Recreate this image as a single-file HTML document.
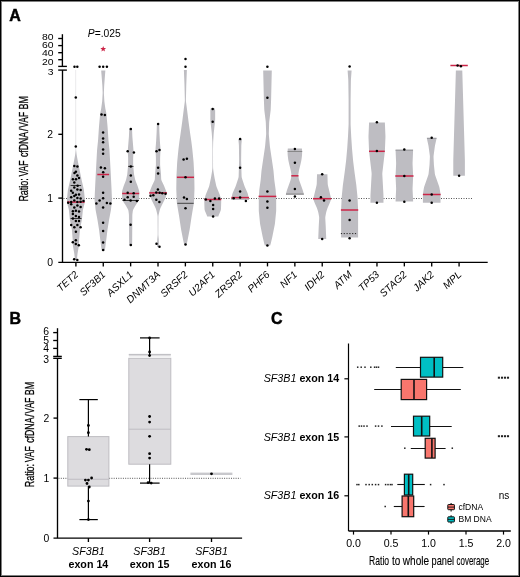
<!DOCTYPE html><html><head><meta charset="utf-8"><style>html,body{margin:0;padding:0;background:#fff;}#wrap{position:relative;width:520px;height:577px;overflow:hidden;}#wrap svg{position:absolute;left:0;top:0;will-change:transform;}#border{position:absolute;left:0;top:0;width:520px;height:577px;box-sizing:border-box;border:1px solid #000;box-shadow:inset 0 0 0 1px rgba(0,0,0,0.5);}</style></head><body><div id="wrap"><svg width="520" height="577" viewBox="0 0 520 577">
<g font-family="'Liberation Sans', sans-serif" font-weight="bold" font-size="16" fill="#000" stroke="#000" stroke-width="0.45"><text x="9.2" y="21.1">A</text><text x="9.6" y="323.9">B</text><text x="271.1" y="323.8">C</text></g>
<line x1="63.5" y1="198.5" x2="472.7" y2="198.5" stroke="#555" stroke-width="1" stroke-dasharray="1,1.5"/>
<path d="M75.75,70.0 L75.75,70.5 L75.75,71.0 L75.75,71.5 L75.75,72.0 L75.75,72.5 L75.75,73.0 L75.75,73.5 L75.75,74.0 L75.75,74.5 L75.75,75.0 L75.75,75.5 L75.75,76.0 L75.75,76.5 L75.75,77.0 L75.75,77.5 L75.75,78.0 L75.74,78.5 L75.74,79.0 L75.74,79.5 L75.74,80.0 L75.74,80.5 L75.74,81.0 L75.74,81.5 L75.74,82.0 L75.74,82.5 L75.74,83.0 L75.74,83.5 L75.74,84.0 L75.74,84.5 L75.74,85.0 L75.74,85.5 L75.74,86.0 L75.74,86.5 L75.74,87.0 L75.74,87.5 L75.74,88.0 L75.74,88.5 L75.74,89.0 L75.74,89.5 L75.74,90.0 L75.74,90.5 L75.74,91.0 L75.74,91.5 L75.74,92.0 L75.74,92.5 L75.74,93.0 L75.74,93.5 L75.73,94.0 L75.73,94.5 L75.73,95.0 L75.73,95.5 L75.73,96.0 L75.73,96.5 L75.73,97.0 L75.73,97.5 L75.73,98.0 L75.73,98.5 L75.73,99.0 L75.73,99.5 L75.73,100.0 L75.73,100.5 L75.73,101.0 L75.73,101.5 L75.73,102.0 L75.73,102.5 L75.73,103.0 L75.73,103.5 L75.73,104.0 L75.73,104.5 L75.73,105.0 L75.73,105.5 L75.73,106.0 L75.73,106.5 L75.73,107.0 L75.73,107.5 L75.73,108.0 L75.73,108.5 L75.73,109.0 L75.73,109.5 L75.73,110.0 L75.72,110.5 L75.72,111.0 L75.72,111.5 L75.72,112.0 L75.72,112.5 L75.72,113.0 L75.72,113.5 L75.72,114.0 L75.72,114.5 L75.72,115.0 L75.72,115.5 L75.72,116.0 L75.72,116.5 L75.72,117.0 L75.72,117.5 L75.72,118.0 L75.72,118.5 L75.72,119.0 L75.72,119.5 L75.72,120.0 L75.72,120.5 L75.72,121.0 L75.72,121.5 L75.72,122.0 L75.72,122.5 L75.72,123.0 L75.72,123.5 L75.72,124.0 L75.72,124.5 L75.72,125.0 L75.72,125.5 L75.72,126.0 L75.71,126.5 L75.71,127.0 L75.71,127.5 L75.71,128.0 L75.71,128.5 L75.71,129.0 L75.71,129.5 L75.71,130.0 L75.71,130.5 L75.71,131.0 L75.71,131.5 L75.71,132.0 L75.71,132.5 L75.71,133.0 L75.71,133.5 L75.71,134.0 L75.71,134.5 L75.71,135.0 L75.71,135.5 L75.71,136.0 L75.71,136.5 L75.71,137.0 L75.71,137.5 L75.71,138.0 L75.71,138.5 L75.71,139.0 L75.71,139.5 L75.71,140.0 L75.71,140.5 L75.71,141.0 L75.71,141.5 L75.71,142.0 L75.70,142.5 L75.70,143.0 L75.70,143.5 L75.70,144.0 L75.70,144.5 L75.70,145.0 L75.70,145.5 L75.70,146.0 L75.70,146.5 L75.70,147.0 L75.70,147.5 L75.70,148.0 L75.70,148.5 L75.70,149.0 L75.69,149.5 L75.66,150.0 L75.63,150.5 L75.58,151.0 L75.52,151.5 L75.46,152.0 L75.40,152.5 L75.34,153.0 L75.28,153.5 L75.22,154.0 L75.15,154.5 L75.08,155.0 L75.00,155.5 L74.92,156.0 L74.83,156.5 L74.74,157.0 L74.65,157.5 L74.56,158.0 L74.47,158.5 L74.38,159.0 L74.29,159.5 L74.19,160.0 L74.10,160.5 L74.00,161.0 L73.90,161.5 L73.80,162.0 L73.70,162.5 L73.60,163.0 L73.50,163.5 L73.40,164.0 L73.30,164.5 L73.20,165.0 L73.10,165.5 L73.00,166.0 L72.90,166.5 L72.80,167.0 L72.70,167.5 L72.60,168.0 L72.50,168.5 L72.40,169.0 L72.30,169.5 L72.20,170.0 L72.10,170.5 L72.00,171.0 L71.90,171.5 L71.80,172.0 L71.69,172.5 L71.59,173.0 L71.49,173.5 L71.39,174.0 L71.29,174.5 L71.19,175.0 L71.09,175.5 L70.99,176.0 L70.89,176.5 L70.79,177.0 L70.68,177.5 L70.58,178.0 L70.48,178.5 L70.38,179.0 L70.28,179.5 L70.17,180.0 L70.06,180.5 L69.95,181.0 L69.83,181.5 L69.72,182.0 L69.60,182.5 L69.49,183.0 L69.37,183.5 L69.26,184.0 L69.14,184.5 L69.03,185.0 L68.91,185.5 L68.80,186.0 L68.68,186.5 L68.57,187.0 L68.45,187.5 L68.34,188.0 L68.22,188.5 L68.11,189.0 L68.01,189.5 L67.92,190.0 L67.85,190.5 L67.79,191.0 L67.74,191.5 L67.69,192.0 L67.64,192.5 L67.59,193.0 L67.54,193.5 L67.49,194.0 L67.44,194.5 L67.39,195.0 L67.34,195.5 L67.29,196.0 L67.24,196.5 L67.19,197.0 L67.14,197.5 L67.09,198.0 L67.04,198.5 L66.99,199.0 L66.97,199.5 L66.96,200.0 L66.98,200.5 L67.01,201.0 L67.06,201.5 L67.12,202.0 L67.17,202.5 L67.22,203.0 L67.30,203.5 L67.39,204.0 L67.50,204.5 L67.62,205.0 L67.75,205.5 L67.89,206.0 L68.02,206.5 L68.15,207.0 L68.29,207.5 L68.42,208.0 L68.55,208.5 L68.68,209.0 L68.79,209.5 L68.88,210.0 L68.96,210.5 L69.02,211.0 L69.07,211.5 L69.12,212.0 L69.17,212.5 L69.22,213.0 L69.27,213.5 L69.32,214.0 L69.37,214.5 L69.42,215.0 L69.47,215.5 L69.52,216.0 L69.57,216.5 L69.62,217.0 L69.67,217.5 L69.72,218.0 L69.77,218.5 L69.82,219.0 L69.89,219.5 L69.96,220.0 L70.05,220.5 L70.14,221.0 L70.24,221.5 L70.34,222.0 L70.44,222.5 L70.54,223.0 L70.64,223.5 L70.74,224.0 L70.84,224.5 L70.94,225.0 L71.04,225.5 L71.14,226.0 L71.24,226.5 L71.34,227.0 L71.44,227.5 L71.54,228.0 L71.64,228.5 L71.74,229.0 L71.82,229.5 L71.89,230.0 L71.95,230.5 L72.00,231.0 L72.04,231.5 L72.08,232.0 L72.12,232.5 L72.16,233.0 L72.20,233.5 L72.24,234.0 L72.28,234.5 L72.32,235.0 L72.36,235.5 L72.40,236.0 L72.44,236.5 L72.48,237.0 L72.52,237.5 L72.56,238.0 L72.60,238.5 L72.64,239.0 L72.67,239.5 L72.70,240.0 L72.72,240.5 L72.74,241.0 L72.76,241.5 L72.78,242.0 L72.79,242.5 L72.81,243.0 L72.83,243.5 L72.84,244.0 L72.86,244.5 L72.89,245.0 L72.92,245.5 L72.98,246.0 L73.05,246.5 L73.13,247.0 L73.22,247.5 L73.30,248.0 L73.39,248.5 L73.48,249.0 L73.57,249.5 L73.65,250.0 L73.74,250.5 L73.83,251.0 L73.92,251.5 L74.00,252.0 L74.09,252.5 L74.17,253.0 L74.25,253.5 L74.32,254.0 L74.38,254.5 L74.43,255.0 L74.48,255.5 L74.53,256.0 L74.58,256.5 L74.63,257.0 L74.68,257.5 L74.73,258.0 L74.78,258.5 L74.82,259.0 L74.86,259.5 L74.88,259.7 L76.92,259.7 L76.94,259.5 L76.98,259.0 L77.02,258.5 L77.07,258.0 L77.12,257.5 L77.17,257.0 L77.22,256.5 L77.27,256.0 L77.32,255.5 L77.37,255.0 L77.42,254.5 L77.48,254.0 L77.55,253.5 L77.63,253.0 L77.71,252.5 L77.80,252.0 L77.89,251.5 L77.97,251.0 L78.06,250.5 L78.15,250.0 L78.23,249.5 L78.32,249.0 L78.41,248.5 L78.50,248.0 L78.59,247.5 L78.67,247.0 L78.75,246.5 L78.82,246.0 L78.88,245.5 L78.91,245.0 L78.94,244.5 L78.96,244.0 L78.97,243.5 L78.99,243.0 L79.01,242.5 L79.02,242.0 L79.04,241.5 L79.06,241.0 L79.08,240.5 L79.10,240.0 L79.13,239.5 L79.16,239.0 L79.20,238.5 L79.24,238.0 L79.28,237.5 L79.32,237.0 L79.36,236.5 L79.40,236.0 L79.44,235.5 L79.48,235.0 L79.52,234.5 L79.56,234.0 L79.60,233.5 L79.64,233.0 L79.68,232.5 L79.72,232.0 L79.76,231.5 L79.80,231.0 L79.85,230.5 L79.91,230.0 L79.98,229.5 L80.06,229.0 L80.16,228.5 L80.26,228.0 L80.36,227.5 L80.46,227.0 L80.56,226.5 L80.66,226.0 L80.76,225.5 L80.86,225.0 L80.96,224.5 L81.06,224.0 L81.16,223.5 L81.26,223.0 L81.36,222.5 L81.46,222.0 L81.56,221.5 L81.66,221.0 L81.75,220.5 L81.84,220.0 L81.91,219.5 L81.98,219.0 L82.03,218.5 L82.08,218.0 L82.13,217.5 L82.18,217.0 L82.23,216.5 L82.28,216.0 L82.33,215.5 L82.38,215.0 L82.43,214.5 L82.48,214.0 L82.53,213.5 L82.58,213.0 L82.63,212.5 L82.68,212.0 L82.73,211.5 L82.78,211.0 L82.84,210.5 L82.92,210.0 L83.01,209.5 L83.12,209.0 L83.25,208.5 L83.38,208.0 L83.51,207.5 L83.65,207.0 L83.78,206.5 L83.91,206.0 L84.05,205.5 L84.18,205.0 L84.30,204.5 L84.41,204.0 L84.50,203.5 L84.58,203.0 L84.63,202.5 L84.68,202.0 L84.74,201.5 L84.79,201.0 L84.82,200.5 L84.84,200.0 L84.83,199.5 L84.81,199.0 L84.76,198.5 L84.71,198.0 L84.66,197.5 L84.61,197.0 L84.56,196.5 L84.51,196.0 L84.46,195.5 L84.41,195.0 L84.36,194.5 L84.31,194.0 L84.26,193.5 L84.21,193.0 L84.16,192.5 L84.11,192.0 L84.06,191.5 L84.01,191.0 L83.95,190.5 L83.88,190.0 L83.79,189.5 L83.69,189.0 L83.58,188.5 L83.46,188.0 L83.35,187.5 L83.23,187.0 L83.12,186.5 L83.00,186.0 L82.89,185.5 L82.77,185.0 L82.66,184.5 L82.54,184.0 L82.43,183.5 L82.31,183.0 L82.20,182.5 L82.08,182.0 L81.97,181.5 L81.85,181.0 L81.74,180.5 L81.63,180.0 L81.52,179.5 L81.42,179.0 L81.32,178.5 L81.22,178.0 L81.12,177.5 L81.01,177.0 L80.91,176.5 L80.81,176.0 L80.71,175.5 L80.61,175.0 L80.51,174.5 L80.41,174.0 L80.31,173.5 L80.21,173.0 L80.11,172.5 L80.00,172.0 L79.90,171.5 L79.80,171.0 L79.70,170.5 L79.60,170.0 L79.50,169.5 L79.40,169.0 L79.30,168.5 L79.20,168.0 L79.10,167.5 L79.00,167.0 L78.90,166.5 L78.80,166.0 L78.70,165.5 L78.60,165.0 L78.50,164.5 L78.40,164.0 L78.30,163.5 L78.20,163.0 L78.10,162.5 L78.00,162.0 L77.90,161.5 L77.80,161.0 L77.70,160.5 L77.61,160.0 L77.51,159.5 L77.42,159.0 L77.33,158.5 L77.24,158.0 L77.15,157.5 L77.06,157.0 L76.97,156.5 L76.88,156.0 L76.80,155.5 L76.72,155.0 L76.65,154.5 L76.58,154.0 L76.52,153.5 L76.46,153.0 L76.40,152.5 L76.34,152.0 L76.28,151.5 L76.22,151.0 L76.17,150.5 L76.14,150.0 L76.11,149.5 L76.10,149.0 L76.10,148.5 L76.10,148.0 L76.10,147.5 L76.10,147.0 L76.10,146.5 L76.10,146.0 L76.10,145.5 L76.10,145.0 L76.10,144.5 L76.10,144.0 L76.10,143.5 L76.10,143.0 L76.10,142.5 L76.09,142.0 L76.09,141.5 L76.09,141.0 L76.09,140.5 L76.09,140.0 L76.09,139.5 L76.09,139.0 L76.09,138.5 L76.09,138.0 L76.09,137.5 L76.09,137.0 L76.09,136.5 L76.09,136.0 L76.09,135.5 L76.09,135.0 L76.09,134.5 L76.09,134.0 L76.09,133.5 L76.09,133.0 L76.09,132.5 L76.09,132.0 L76.09,131.5 L76.09,131.0 L76.09,130.5 L76.09,130.0 L76.09,129.5 L76.09,129.0 L76.09,128.5 L76.09,128.0 L76.09,127.5 L76.09,127.0 L76.09,126.5 L76.09,126.0 L76.08,125.5 L76.08,125.0 L76.08,124.5 L76.08,124.0 L76.08,123.5 L76.08,123.0 L76.08,122.5 L76.08,122.0 L76.08,121.5 L76.08,121.0 L76.08,120.5 L76.08,120.0 L76.08,119.5 L76.08,119.0 L76.08,118.5 L76.08,118.0 L76.08,117.5 L76.08,117.0 L76.08,116.5 L76.08,116.0 L76.08,115.5 L76.08,115.0 L76.08,114.5 L76.08,114.0 L76.08,113.5 L76.08,113.0 L76.08,112.5 L76.08,112.0 L76.08,111.5 L76.08,111.0 L76.08,110.5 L76.08,110.0 L76.07,109.5 L76.07,109.0 L76.07,108.5 L76.07,108.0 L76.07,107.5 L76.07,107.0 L76.07,106.5 L76.07,106.0 L76.07,105.5 L76.07,105.0 L76.07,104.5 L76.07,104.0 L76.07,103.5 L76.07,103.0 L76.07,102.5 L76.07,102.0 L76.07,101.5 L76.07,101.0 L76.07,100.5 L76.07,100.0 L76.07,99.5 L76.07,99.0 L76.07,98.5 L76.07,98.0 L76.07,97.5 L76.07,97.0 L76.07,96.5 L76.07,96.0 L76.07,95.5 L76.07,95.0 L76.07,94.5 L76.07,94.0 L76.06,93.5 L76.06,93.0 L76.06,92.5 L76.06,92.0 L76.06,91.5 L76.06,91.0 L76.06,90.5 L76.06,90.0 L76.06,89.5 L76.06,89.0 L76.06,88.5 L76.06,88.0 L76.06,87.5 L76.06,87.0 L76.06,86.5 L76.06,86.0 L76.06,85.5 L76.06,85.0 L76.06,84.5 L76.06,84.0 L76.06,83.5 L76.06,83.0 L76.06,82.5 L76.06,82.0 L76.06,81.5 L76.06,81.0 L76.06,80.5 L76.06,80.0 L76.06,79.5 L76.06,79.0 L76.06,78.5 L76.06,78.0 L76.05,77.5 L76.05,77.0 L76.05,76.5 L76.05,76.0 L76.05,75.5 L76.05,75.0 L76.05,74.5 L76.05,74.0 L76.05,73.5 L76.05,73.0 L76.05,72.5 L76.05,72.0 L76.05,71.5 L76.05,71.0 L76.05,70.5 L76.05,70.0Z" fill="#bebdc2"/>
<path d="M101.19,70.5 L101.22,71.0 L101.25,71.5 L101.29,72.0 L101.33,72.5 L101.37,73.0 L101.41,73.5 L101.46,74.0 L101.50,74.5 L101.54,75.0 L101.58,75.5 L101.62,76.0 L101.65,76.5 L101.69,77.0 L101.73,77.5 L101.77,78.0 L101.81,78.5 L101.85,79.0 L101.89,79.5 L101.92,80.0 L101.96,80.5 L102.00,81.0 L102.04,81.5 L102.08,82.0 L102.12,82.5 L102.15,83.0 L102.19,83.5 L102.23,84.0 L102.27,84.5 L102.31,85.0 L102.34,85.5 L102.37,86.0 L102.40,86.5 L102.42,87.0 L102.44,87.5 L102.46,88.0 L102.48,88.5 L102.50,89.0 L102.52,89.5 L102.55,90.0 L102.57,90.5 L102.59,91.0 L102.61,91.5 L102.63,92.0 L102.64,92.5 L102.64,93.0 L102.63,93.5 L102.61,94.0 L102.58,94.5 L102.55,95.0 L102.52,95.5 L102.49,96.0 L102.46,96.5 L102.43,97.0 L102.41,97.5 L102.38,98.0 L102.35,98.5 L102.32,99.0 L102.29,99.5 L102.26,100.0 L102.23,100.5 L102.19,101.0 L102.15,101.5 L102.09,102.0 L102.03,102.5 L101.96,103.0 L101.89,103.5 L101.83,104.0 L101.76,104.5 L101.69,105.0 L101.62,105.5 L101.55,106.0 L101.48,106.5 L101.41,107.0 L101.34,107.5 L101.27,108.0 L101.19,108.5 L101.10,109.0 L101.00,109.5 L100.90,110.0 L100.79,110.5 L100.69,111.0 L100.58,111.5 L100.47,112.0 L100.37,112.5 L100.27,113.0 L100.19,113.5 L100.13,114.0 L100.07,114.5 L100.03,115.0 L99.98,115.5 L99.94,116.0 L99.89,116.5 L99.85,117.0 L99.81,117.5 L99.76,118.0 L99.72,118.5 L99.67,119.0 L99.63,119.5 L99.58,120.0 L99.54,120.5 L99.49,121.0 L99.45,121.5 L99.41,122.0 L99.36,122.5 L99.32,123.0 L99.27,123.5 L99.23,124.0 L99.18,124.5 L99.14,125.0 L99.09,125.5 L99.05,126.0 L99.01,126.5 L98.97,127.0 L98.93,127.5 L98.90,128.0 L98.86,128.5 L98.83,129.0 L98.80,129.5 L98.76,130.0 L98.73,130.5 L98.69,131.0 L98.66,131.5 L98.63,132.0 L98.59,132.5 L98.56,133.0 L98.53,133.5 L98.49,134.0 L98.46,134.5 L98.43,135.0 L98.39,135.5 L98.36,136.0 L98.33,136.5 L98.29,137.0 L98.26,137.5 L98.22,138.0 L98.19,138.5 L98.16,139.0 L98.12,139.5 L98.08,140.0 L98.04,140.5 L98.00,141.0 L97.95,141.5 L97.89,142.0 L97.84,142.5 L97.79,143.0 L97.74,143.5 L97.69,144.0 L97.64,144.5 L97.59,145.0 L97.53,145.5 L97.48,146.0 L97.43,146.5 L97.38,147.0 L97.33,147.5 L97.28,148.0 L97.22,148.5 L97.17,149.0 L97.13,149.5 L97.08,150.0 L97.05,150.5 L97.02,151.0 L96.99,151.5 L96.96,152.0 L96.93,152.5 L96.91,153.0 L96.88,153.5 L96.85,154.0 L96.82,154.5 L96.80,155.0 L96.77,155.5 L96.74,156.0 L96.71,156.5 L96.69,157.0 L96.66,157.5 L96.63,158.0 L96.60,158.5 L96.58,159.0 L96.55,159.5 L96.52,160.0 L96.49,160.5 L96.47,161.0 L96.44,161.5 L96.41,162.0 L96.38,162.5 L96.36,163.0 L96.33,163.5 L96.30,164.0 L96.27,164.5 L96.25,165.0 L96.22,165.5 L96.19,166.0 L96.16,166.5 L96.14,167.0 L96.11,167.5 L96.08,168.0 L96.05,168.5 L96.03,169.0 L96.00,169.5 L95.97,170.0 L95.95,170.5 L95.92,171.0 L95.89,171.5 L95.87,172.0 L95.84,172.5 L95.82,173.0 L95.79,173.5 L95.77,174.0 L95.74,174.5 L95.72,175.0 L95.69,175.5 L95.67,176.0 L95.64,176.5 L95.62,177.0 L95.59,177.5 L95.57,178.0 L95.54,178.5 L95.52,179.0 L95.49,179.5 L95.47,180.0 L95.44,180.5 L95.42,181.0 L95.39,181.5 L95.37,182.0 L95.34,182.5 L95.32,183.0 L95.29,183.5 L95.27,184.0 L95.24,184.5 L95.22,185.0 L95.19,185.5 L95.17,186.0 L95.14,186.5 L95.12,187.0 L95.09,187.5 L95.07,188.0 L95.04,188.5 L95.02,189.0 L94.99,189.5 L94.97,190.0 L94.95,190.5 L94.93,191.0 L94.91,191.5 L94.89,192.0 L94.87,192.5 L94.85,193.0 L94.83,193.5 L94.81,194.0 L94.79,194.5 L94.77,195.0 L94.75,195.5 L94.73,196.0 L94.71,196.5 L94.69,197.0 L94.67,197.5 L94.65,198.0 L94.63,198.5 L94.61,199.0 L94.61,199.5 L94.62,200.0 L94.64,200.5 L94.68,201.0 L94.73,201.5 L94.78,202.0 L94.83,202.5 L94.88,203.0 L94.93,203.5 L94.98,204.0 L95.03,204.5 L95.09,205.0 L95.14,205.5 L95.19,206.0 L95.24,206.5 L95.29,207.0 L95.34,207.5 L95.39,208.0 L95.44,208.5 L95.49,209.0 L95.56,209.5 L95.63,210.0 L95.71,210.5 L95.80,211.0 L95.89,211.5 L95.99,212.0 L96.08,212.5 L96.18,213.0 L96.27,213.5 L96.37,214.0 L96.46,214.5 L96.56,215.0 L96.65,215.5 L96.75,216.0 L96.84,216.5 L96.94,217.0 L97.03,217.5 L97.13,218.0 L97.22,218.5 L97.32,219.0 L97.41,219.5 L97.50,220.0 L97.58,220.5 L97.66,221.0 L97.74,221.5 L97.82,222.0 L97.90,222.5 L97.98,223.0 L98.06,223.5 L98.14,224.0 L98.22,224.5 L98.30,225.0 L98.38,225.5 L98.46,226.0 L98.54,226.5 L98.62,227.0 L98.70,227.5 L98.78,228.0 L98.86,228.5 L98.94,229.0 L99.02,229.5 L99.09,230.0 L99.15,230.5 L99.22,231.0 L99.28,231.5 L99.34,232.0 L99.40,232.5 L99.46,233.0 L99.52,233.5 L99.58,234.0 L99.64,234.5 L99.70,235.0 L99.76,235.5 L99.82,236.0 L99.88,236.5 L99.94,237.0 L100.00,237.5 L100.06,238.0 L100.12,238.5 L100.19,239.0 L100.25,239.5 L100.31,240.0 L100.37,240.5 L100.44,241.0 L100.50,241.5 L100.57,242.0 L100.63,242.5 L100.70,243.0 L100.76,243.5 L100.83,244.0 L100.89,244.5 L100.96,245.0 L101.02,245.5 L101.09,246.0 L101.15,246.5 L101.22,247.0 L101.28,247.5 L101.35,248.0 L101.41,248.5 L101.49,249.0 L101.60,249.5 L101.73,250.0 L101.85,250.5 L101.95,251.0 L104.59,251.0 L104.69,250.5 L104.81,250.0 L104.94,249.5 L105.05,249.0 L105.13,248.5 L105.19,248.0 L105.26,247.5 L105.32,247.0 L105.39,246.5 L105.45,246.0 L105.52,245.5 L105.58,245.0 L105.65,244.5 L105.71,244.0 L105.78,243.5 L105.84,243.0 L105.91,242.5 L105.97,242.0 L106.04,241.5 L106.10,241.0 L106.17,240.5 L106.23,240.0 L106.29,239.5 L106.35,239.0 L106.42,238.5 L106.48,238.0 L106.54,237.5 L106.60,237.0 L106.66,236.5 L106.72,236.0 L106.78,235.5 L106.84,235.0 L106.90,234.5 L106.96,234.0 L107.02,233.5 L107.08,233.0 L107.14,232.5 L107.20,232.0 L107.26,231.5 L107.32,231.0 L107.39,230.5 L107.45,230.0 L107.52,229.5 L107.60,229.0 L107.68,228.5 L107.76,228.0 L107.84,227.5 L107.92,227.0 L108.00,226.5 L108.08,226.0 L108.16,225.5 L108.24,225.0 L108.32,224.5 L108.40,224.0 L108.48,223.5 L108.56,223.0 L108.64,222.5 L108.72,222.0 L108.80,221.5 L108.88,221.0 L108.96,220.5 L109.04,220.0 L109.13,219.5 L109.22,219.0 L109.32,218.5 L109.41,218.0 L109.51,217.5 L109.60,217.0 L109.70,216.5 L109.79,216.0 L109.89,215.5 L109.98,215.0 L110.08,214.5 L110.17,214.0 L110.27,213.5 L110.36,213.0 L110.46,212.5 L110.55,212.0 L110.65,211.5 L110.74,211.0 L110.83,210.5 L110.91,210.0 L110.98,209.5 L111.05,209.0 L111.10,208.5 L111.15,208.0 L111.20,207.5 L111.25,207.0 L111.30,206.5 L111.35,206.0 L111.40,205.5 L111.45,205.0 L111.51,204.5 L111.56,204.0 L111.61,203.5 L111.66,203.0 L111.71,202.5 L111.76,202.0 L111.81,201.5 L111.86,201.0 L111.90,200.5 L111.92,200.0 L111.93,199.5 L111.93,199.0 L111.91,198.5 L111.89,198.0 L111.87,197.5 L111.85,197.0 L111.83,196.5 L111.81,196.0 L111.79,195.5 L111.77,195.0 L111.75,194.5 L111.73,194.0 L111.71,193.5 L111.69,193.0 L111.67,192.5 L111.65,192.0 L111.63,191.5 L111.61,191.0 L111.59,190.5 L111.57,190.0 L111.55,189.5 L111.52,189.0 L111.50,188.5 L111.47,188.0 L111.45,187.5 L111.42,187.0 L111.40,186.5 L111.37,186.0 L111.35,185.5 L111.32,185.0 L111.30,184.5 L111.27,184.0 L111.25,183.5 L111.22,183.0 L111.20,182.5 L111.17,182.0 L111.15,181.5 L111.12,181.0 L111.10,180.5 L111.07,180.0 L111.05,179.5 L111.02,179.0 L111.00,178.5 L110.97,178.0 L110.95,177.5 L110.92,177.0 L110.90,176.5 L110.87,176.0 L110.85,175.5 L110.82,175.0 L110.80,174.5 L110.77,174.0 L110.75,173.5 L110.72,173.0 L110.70,172.5 L110.67,172.0 L110.65,171.5 L110.62,171.0 L110.59,170.5 L110.57,170.0 L110.54,169.5 L110.52,169.0 L110.49,168.5 L110.46,168.0 L110.43,167.5 L110.41,167.0 L110.38,166.5 L110.35,166.0 L110.32,165.5 L110.30,165.0 L110.27,164.5 L110.24,164.0 L110.21,163.5 L110.19,163.0 L110.16,162.5 L110.13,162.0 L110.10,161.5 L110.08,161.0 L110.05,160.5 L110.02,160.0 L109.99,159.5 L109.97,159.0 L109.94,158.5 L109.91,158.0 L109.88,157.5 L109.86,157.0 L109.83,156.5 L109.80,156.0 L109.77,155.5 L109.75,155.0 L109.72,154.5 L109.69,154.0 L109.66,153.5 L109.64,153.0 L109.61,152.5 L109.58,152.0 L109.55,151.5 L109.53,151.0 L109.49,150.5 L109.46,150.0 L109.41,149.5 L109.37,149.0 L109.32,148.5 L109.26,148.0 L109.21,147.5 L109.16,147.0 L109.11,146.5 L109.06,146.0 L109.01,145.5 L108.95,145.0 L108.90,144.5 L108.85,144.0 L108.80,143.5 L108.75,143.0 L108.70,142.5 L108.65,142.0 L108.59,141.5 L108.54,141.0 L108.50,140.5 L108.46,140.0 L108.42,139.5 L108.38,139.0 L108.35,138.5 L108.32,138.0 L108.28,137.5 L108.25,137.0 L108.21,136.5 L108.18,136.0 L108.15,135.5 L108.11,135.0 L108.08,134.5 L108.05,134.0 L108.01,133.5 L107.98,133.0 L107.95,132.5 L107.91,132.0 L107.88,131.5 L107.85,131.0 L107.81,130.5 L107.78,130.0 L107.74,129.5 L107.71,129.0 L107.68,128.5 L107.64,128.0 L107.61,127.5 L107.57,127.0 L107.53,126.5 L107.49,126.0 L107.45,125.5 L107.40,125.0 L107.36,124.5 L107.31,124.0 L107.27,123.5 L107.22,123.0 L107.18,122.5 L107.13,122.0 L107.09,121.5 L107.05,121.0 L107.00,120.5 L106.96,120.0 L106.91,119.5 L106.87,119.0 L106.82,118.5 L106.78,118.0 L106.73,117.5 L106.69,117.0 L106.65,116.5 L106.60,116.0 L106.56,115.5 L106.51,115.0 L106.47,114.5 L106.41,114.0 L106.35,113.5 L106.27,113.0 L106.17,112.5 L106.07,112.0 L105.96,111.5 L105.85,111.0 L105.75,110.5 L105.64,110.0 L105.54,109.5 L105.44,109.0 L105.35,108.5 L105.27,108.0 L105.20,107.5 L105.13,107.0 L105.06,106.5 L104.99,106.0 L104.92,105.5 L104.85,105.0 L104.78,104.5 L104.71,104.0 L104.65,103.5 L104.58,103.0 L104.51,102.5 L104.45,102.0 L104.39,101.5 L104.35,101.0 L104.31,100.5 L104.28,100.0 L104.25,99.5 L104.22,99.0 L104.19,98.5 L104.16,98.0 L104.13,97.5 L104.11,97.0 L104.08,96.5 L104.05,96.0 L104.02,95.5 L103.99,95.0 L103.96,94.5 L103.93,94.0 L103.91,93.5 L103.90,93.0 L103.90,92.5 L103.91,92.0 L103.93,91.5 L103.95,91.0 L103.97,90.5 L104.00,90.0 L104.02,89.5 L104.04,89.0 L104.06,88.5 L104.08,88.0 L104.10,87.5 L104.12,87.0 L104.14,86.5 L104.17,86.0 L104.20,85.5 L104.23,85.0 L104.27,84.5 L104.31,84.0 L104.35,83.5 L104.39,83.0 L104.42,82.5 L104.46,82.0 L104.50,81.5 L104.54,81.0 L104.58,80.5 L104.62,80.0 L104.65,79.5 L104.69,79.0 L104.73,78.5 L104.77,78.0 L104.81,77.5 L104.85,77.0 L104.89,76.5 L104.92,76.0 L104.96,75.5 L105.00,75.0 L105.04,74.5 L105.08,74.0 L105.13,73.5 L105.17,73.0 L105.21,72.5 L105.25,72.0 L105.29,71.5 L105.32,71.0 L105.35,70.5Z" fill="#bebdc2"/>
<path d="M129.23,128.5 L129.22,129.0 L129.20,129.5 L129.18,130.0 L129.16,130.5 L129.15,131.0 L129.13,131.5 L129.11,132.0 L129.09,132.5 L129.07,133.0 L129.05,133.5 L129.03,134.0 L129.01,134.5 L128.99,135.0 L128.97,135.5 L128.95,136.0 L128.92,136.5 L128.89,137.0 L128.85,137.5 L128.81,138.0 L128.77,138.5 L128.72,139.0 L128.68,139.5 L128.64,140.0 L128.60,140.5 L128.56,141.0 L128.52,141.5 L128.47,142.0 L128.43,142.5 L128.39,143.0 L128.35,143.5 L128.31,144.0 L128.27,144.5 L128.22,145.0 L128.18,145.5 L128.14,146.0 L128.10,146.5 L128.06,147.0 L128.02,147.5 L127.98,148.0 L127.94,148.5 L127.90,149.0 L127.86,149.5 L127.82,150.0 L127.79,150.5 L127.78,151.0 L127.78,151.5 L127.80,152.0 L127.83,152.5 L127.86,153.0 L127.88,153.5 L127.91,154.0 L127.94,154.5 L127.96,155.0 L127.99,155.5 L128.02,156.0 L128.05,156.5 L128.07,157.0 L128.10,157.5 L128.12,158.0 L128.13,158.5 L128.14,159.0 L128.14,159.5 L128.14,160.0 L128.14,160.5 L128.14,161.0 L128.14,161.5 L128.14,162.0 L128.14,162.5 L128.14,163.0 L128.14,163.5 L128.14,164.0 L128.13,164.5 L128.11,165.0 L128.08,165.5 L128.05,166.0 L128.00,166.5 L127.95,167.0 L127.90,167.5 L127.86,168.0 L127.81,168.5 L127.76,169.0 L127.71,169.5 L127.67,170.0 L127.62,170.5 L127.57,171.0 L127.52,171.5 L127.48,172.0 L127.43,172.5 L127.38,173.0 L127.33,173.5 L127.28,174.0 L127.20,174.5 L127.12,175.0 L127.02,175.5 L126.91,176.0 L126.80,176.5 L126.69,177.0 L126.59,177.5 L126.48,178.0 L126.37,178.5 L126.26,179.0 L126.13,179.5 L125.99,180.0 L125.82,180.5 L125.64,181.0 L125.45,181.5 L125.25,182.0 L125.05,182.5 L124.85,183.0 L124.65,183.5 L124.45,184.0 L124.26,184.5 L124.06,185.0 L123.87,185.5 L123.69,186.0 L123.52,186.5 L123.36,187.0 L123.20,187.5 L123.05,188.0 L122.89,188.5 L122.73,189.0 L122.57,189.5 L122.41,190.0 L122.26,190.5 L122.13,191.0 L122.05,191.5 L121.99,192.0 L121.97,192.5 L121.99,193.0 L122.01,193.5 L122.03,194.0 L122.04,194.5 L122.06,195.0 L122.08,195.5 L122.10,196.0 L122.11,196.5 L122.13,197.0 L122.15,197.5 L122.16,198.0 L122.18,198.5 L122.20,199.0 L122.25,199.5 L122.37,200.0 L122.56,200.5 L122.80,201.0 L123.12,201.5 L123.45,202.0 L123.79,202.5 L124.12,203.0 L124.46,203.5 L124.80,204.0 L125.13,204.5 L125.46,205.0 L125.77,205.5 L126.07,206.0 L126.36,206.5 L126.64,207.0 L126.93,207.5 L127.21,208.0 L127.49,208.5 L127.77,209.0 L128.01,209.5 L128.21,210.0 L128.36,210.5 L128.47,211.0 L128.54,211.5 L128.60,212.0 L128.67,212.5 L128.73,213.0 L128.80,213.5 L128.85,214.0 L128.89,214.5 L128.93,215.0 L128.94,215.5 L128.95,216.0 L128.95,216.5 L128.96,217.0 L128.96,217.5 L128.96,218.0 L128.97,218.5 L128.97,219.0 L128.97,219.5 L128.97,220.0 L128.98,220.5 L128.98,221.0 L128.98,221.5 L128.99,222.0 L128.99,222.5 L128.99,223.0 L129.00,223.5 L129.00,224.0 L129.00,224.5 L129.01,225.0 L129.01,225.5 L129.01,226.0 L129.02,226.5 L129.02,227.0 L129.02,227.5 L129.03,228.0 L129.03,228.5 L129.03,229.0 L129.04,229.5 L129.04,230.0 L129.04,230.5 L129.05,231.0 L129.05,231.5 L129.05,232.0 L129.06,232.5 L129.06,233.0 L129.06,233.5 L129.07,234.0 L129.07,234.5 L129.07,235.0 L129.08,235.5 L129.08,236.0 L129.08,236.5 L129.08,237.0 L129.09,237.5 L129.09,238.0 L129.09,238.5 L129.10,239.0 L129.10,239.5 L129.10,240.0 L129.11,240.5 L129.11,241.0 L129.11,241.5 L129.12,242.0 L129.12,242.5 L129.12,243.0 L129.13,243.5 L129.13,244.0 L129.13,244.5 L129.14,245.0 L129.14,245.5 L132.14,245.5 L132.14,245.0 L132.15,244.5 L132.15,244.0 L132.15,243.5 L132.16,243.0 L132.16,242.5 L132.16,242.0 L132.17,241.5 L132.17,241.0 L132.17,240.5 L132.18,240.0 L132.18,239.5 L132.18,239.0 L132.19,238.5 L132.19,238.0 L132.19,237.5 L132.20,237.0 L132.20,236.5 L132.20,236.0 L132.20,235.5 L132.21,235.0 L132.21,234.5 L132.21,234.0 L132.22,233.5 L132.22,233.0 L132.22,232.5 L132.23,232.0 L132.23,231.5 L132.23,231.0 L132.24,230.5 L132.24,230.0 L132.24,229.5 L132.25,229.0 L132.25,228.5 L132.25,228.0 L132.26,227.5 L132.26,227.0 L132.26,226.5 L132.27,226.0 L132.27,225.5 L132.27,225.0 L132.28,224.5 L132.28,224.0 L132.28,223.5 L132.29,223.0 L132.29,222.5 L132.29,222.0 L132.30,221.5 L132.30,221.0 L132.30,220.5 L132.31,220.0 L132.31,219.5 L132.31,219.0 L132.31,218.5 L132.32,218.0 L132.32,217.5 L132.32,217.0 L132.33,216.5 L132.33,216.0 L132.34,215.5 L132.35,215.0 L132.39,214.5 L132.43,214.0 L132.48,213.5 L132.55,213.0 L132.61,212.5 L132.68,212.0 L132.74,211.5 L132.81,211.0 L132.92,210.5 L133.07,210.0 L133.27,209.5 L133.51,209.0 L133.79,208.5 L134.07,208.0 L134.35,207.5 L134.64,207.0 L134.92,206.5 L135.21,206.0 L135.51,205.5 L135.82,205.0 L136.15,204.5 L136.48,204.0 L136.82,203.5 L137.16,203.0 L137.49,202.5 L137.83,202.0 L138.17,201.5 L138.48,201.0 L138.72,200.5 L138.91,200.0 L139.03,199.5 L139.08,199.0 L139.10,198.5 L139.12,198.0 L139.13,197.5 L139.15,197.0 L139.17,196.5 L139.18,196.0 L139.20,195.5 L139.22,195.0 L139.24,194.5 L139.25,194.0 L139.27,193.5 L139.29,193.0 L139.31,192.5 L139.29,192.0 L139.23,191.5 L139.15,191.0 L139.02,190.5 L138.87,190.0 L138.71,189.5 L138.55,189.0 L138.39,188.5 L138.23,188.0 L138.08,187.5 L137.92,187.0 L137.76,186.5 L137.59,186.0 L137.41,185.5 L137.22,185.0 L137.02,184.5 L136.83,184.0 L136.63,183.5 L136.43,183.0 L136.23,182.5 L136.03,182.0 L135.83,181.5 L135.64,181.0 L135.46,180.5 L135.29,180.0 L135.15,179.5 L135.02,179.0 L134.91,178.5 L134.80,178.0 L134.69,177.5 L134.59,177.0 L134.48,176.5 L134.37,176.0 L134.26,175.5 L134.16,175.0 L134.08,174.5 L134.00,174.0 L133.95,173.5 L133.90,173.0 L133.85,172.5 L133.80,172.0 L133.76,171.5 L133.71,171.0 L133.66,170.5 L133.61,170.0 L133.57,169.5 L133.52,169.0 L133.47,168.5 L133.42,168.0 L133.38,167.5 L133.33,167.0 L133.28,166.5 L133.23,166.0 L133.20,165.5 L133.17,165.0 L133.15,164.5 L133.14,164.0 L133.14,163.5 L133.14,163.0 L133.14,162.5 L133.14,162.0 L133.14,161.5 L133.14,161.0 L133.14,160.5 L133.14,160.0 L133.14,159.5 L133.14,159.0 L133.15,158.5 L133.16,158.0 L133.18,157.5 L133.21,157.0 L133.23,156.5 L133.26,156.0 L133.29,155.5 L133.32,155.0 L133.34,154.5 L133.37,154.0 L133.40,153.5 L133.42,153.0 L133.45,152.5 L133.48,152.0 L133.50,151.5 L133.50,151.0 L133.49,150.5 L133.46,150.0 L133.42,149.5 L133.38,149.0 L133.34,148.5 L133.30,148.0 L133.26,147.5 L133.22,147.0 L133.18,146.5 L133.14,146.0 L133.10,145.5 L133.06,145.0 L133.01,144.5 L132.97,144.0 L132.93,143.5 L132.89,143.0 L132.85,142.5 L132.81,142.0 L132.77,141.5 L132.72,141.0 L132.68,140.5 L132.64,140.0 L132.60,139.5 L132.56,139.0 L132.52,138.5 L132.47,138.0 L132.43,137.5 L132.39,137.0 L132.36,136.5 L132.33,136.0 L132.31,135.5 L132.29,135.0 L132.27,134.5 L132.25,134.0 L132.23,133.5 L132.21,133.0 L132.19,132.5 L132.17,132.0 L132.15,131.5 L132.13,131.0 L132.12,130.5 L132.10,130.0 L132.08,129.5 L132.06,129.0 L132.05,128.5Z" fill="#bebdc2"/>
<path d="M156.90,123.6 L156.89,124.1 L156.88,124.6 L156.86,125.1 L156.84,125.6 L156.83,126.1 L156.81,126.6 L156.79,127.1 L156.78,127.6 L156.76,128.1 L156.75,128.6 L156.73,129.1 L156.71,129.6 L156.70,130.1 L156.68,130.6 L156.66,131.1 L156.65,131.6 L156.63,132.1 L156.61,132.6 L156.58,133.1 L156.56,133.6 L156.53,134.1 L156.51,134.6 L156.48,135.1 L156.45,135.6 L156.42,136.1 L156.40,136.6 L156.37,137.1 L156.34,137.6 L156.31,138.1 L156.29,138.6 L156.26,139.1 L156.23,139.6 L156.20,140.1 L156.18,140.6 L156.15,141.1 L156.11,141.6 L156.08,142.1 L156.04,142.6 L156.00,143.1 L155.96,143.6 L155.92,144.1 L155.88,144.6 L155.84,145.1 L155.80,145.6 L155.76,146.1 L155.72,146.6 L155.67,147.1 L155.63,147.6 L155.59,148.1 L155.56,148.6 L155.55,149.1 L155.54,149.6 L155.55,150.1 L155.58,150.6 L155.60,151.1 L155.62,151.6 L155.64,152.1 L155.66,152.6 L155.69,153.1 L155.71,153.6 L155.73,154.1 L155.75,154.6 L155.77,155.1 L155.80,155.6 L155.82,156.1 L155.84,156.6 L155.86,157.1 L155.88,157.6 L155.89,158.1 L155.90,158.6 L155.91,159.1 L155.91,159.6 L155.91,160.1 L155.91,160.6 L155.91,161.1 L155.91,161.6 L155.91,162.1 L155.91,162.6 L155.91,163.1 L155.91,163.6 L155.91,164.1 L155.90,164.6 L155.88,165.1 L155.85,165.6 L155.81,166.1 L155.76,166.6 L155.71,167.1 L155.66,167.6 L155.62,168.1 L155.57,168.6 L155.52,169.1 L155.47,169.6 L155.43,170.1 L155.38,170.6 L155.33,171.1 L155.28,171.6 L155.24,172.1 L155.19,172.6 L155.14,173.1 L155.10,173.6 L155.06,174.1 L155.02,174.6 L154.99,175.1 L154.97,175.6 L154.95,176.1 L154.93,176.6 L154.92,177.1 L154.90,177.6 L154.88,178.1 L154.86,178.6 L154.83,179.1 L154.76,179.6 L154.65,180.1 L154.48,180.6 L154.28,181.1 L154.04,181.6 L153.80,182.1 L153.55,182.6 L153.31,183.1 L153.07,183.6 L152.83,184.1 L152.59,184.6 L152.35,185.1 L152.13,185.6 L151.91,186.1 L151.70,186.6 L151.50,187.1 L151.31,187.6 L151.11,188.1 L150.91,188.6 L150.72,189.1 L150.52,189.6 L150.33,190.1 L150.13,190.6 L149.94,191.1 L149.74,191.6 L149.59,192.1 L149.50,192.6 L149.47,193.1 L149.50,193.6 L149.58,194.1 L149.68,194.6 L149.78,195.1 L149.88,195.6 L149.98,196.1 L150.09,196.6 L150.24,197.1 L150.41,197.6 L150.62,198.1 L150.86,198.6 L151.11,199.1 L151.36,199.6 L151.61,200.1 L151.86,200.6 L152.11,201.1 L152.36,201.6 L152.61,202.1 L152.86,202.6 L153.11,203.1 L153.35,203.6 L153.60,204.1 L153.85,204.6 L154.09,205.1 L154.34,205.6 L154.58,206.1 L154.83,206.6 L155.07,207.1 L155.32,207.6 L155.55,208.1 L155.76,208.6 L155.95,209.1 L156.11,209.6 L156.24,210.1 L156.37,210.6 L156.50,211.1 L156.63,211.6 L156.75,212.1 L156.87,212.6 L156.98,213.1 L157.09,213.6 L157.20,214.1 L157.31,214.6 L157.41,215.1 L157.49,215.6 L157.56,216.1 L157.60,216.6 L157.62,217.1 L157.62,217.6 L157.62,218.1 L157.62,218.6 L157.63,219.1 L157.63,219.6 L157.63,220.1 L157.63,220.6 L157.64,221.1 L157.64,221.6 L157.64,222.1 L157.64,222.6 L157.65,223.1 L157.65,223.6 L157.65,224.1 L157.66,224.6 L157.66,225.1 L157.66,225.6 L157.66,226.1 L157.67,226.6 L157.67,227.1 L157.67,227.6 L157.67,228.1 L157.68,228.6 L157.68,229.1 L157.68,229.6 L157.68,230.1 L157.69,230.6 L157.69,231.1 L157.69,231.6 L157.69,232.1 L157.70,232.6 L157.70,233.1 L157.70,233.6 L157.70,234.1 L157.69,234.6 L157.67,235.1 L157.64,235.6 L157.60,236.1 L157.55,236.6 L157.50,237.1 L157.45,237.6 L157.40,238.1 L157.35,238.6 L157.30,239.1 L157.26,239.6 L157.23,240.1 L157.20,240.6 L157.18,241.1 L157.16,241.6 L157.15,242.1 L157.14,242.6 L157.12,243.1 L157.11,243.6 L157.09,244.1 L157.08,244.6 L157.06,245.1 L157.05,245.6 L157.04,246.1 L157.03,246.6 L157.02,247.0 L159.00,247.0 L158.99,246.6 L158.98,246.1 L158.97,245.6 L158.96,245.1 L158.94,244.6 L158.93,244.1 L158.91,243.6 L158.90,243.1 L158.88,242.6 L158.87,242.1 L158.86,241.6 L158.84,241.1 L158.82,240.6 L158.79,240.1 L158.76,239.6 L158.72,239.1 L158.67,238.6 L158.62,238.1 L158.57,237.6 L158.52,237.1 L158.47,236.6 L158.42,236.1 L158.38,235.6 L158.35,235.1 L158.33,234.6 L158.32,234.1 L158.32,233.6 L158.32,233.1 L158.32,232.6 L158.33,232.1 L158.33,231.6 L158.33,231.1 L158.33,230.6 L158.34,230.1 L158.34,229.6 L158.34,229.1 L158.34,228.6 L158.35,228.1 L158.35,227.6 L158.35,227.1 L158.35,226.6 L158.36,226.1 L158.36,225.6 L158.36,225.1 L158.36,224.6 L158.37,224.1 L158.37,223.6 L158.37,223.1 L158.38,222.6 L158.38,222.1 L158.38,221.6 L158.38,221.1 L158.39,220.6 L158.39,220.1 L158.39,219.6 L158.39,219.1 L158.40,218.6 L158.40,218.1 L158.40,217.6 L158.40,217.1 L158.42,216.6 L158.46,216.1 L158.53,215.6 L158.61,215.1 L158.71,214.6 L158.82,214.1 L158.93,213.6 L159.04,213.1 L159.15,212.6 L159.27,212.1 L159.39,211.6 L159.52,211.1 L159.65,210.6 L159.78,210.1 L159.91,209.6 L160.07,209.1 L160.26,208.6 L160.47,208.1 L160.70,207.6 L160.95,207.1 L161.19,206.6 L161.44,206.1 L161.68,205.6 L161.93,205.1 L162.17,204.6 L162.42,204.1 L162.67,203.6 L162.91,203.1 L163.16,202.6 L163.41,202.1 L163.66,201.6 L163.91,201.1 L164.16,200.6 L164.41,200.1 L164.66,199.6 L164.91,199.1 L165.16,198.6 L165.40,198.1 L165.61,197.6 L165.78,197.1 L165.93,196.6 L166.04,196.1 L166.14,195.6 L166.24,195.1 L166.34,194.6 L166.44,194.1 L166.52,193.6 L166.55,193.1 L166.52,192.6 L166.43,192.1 L166.28,191.6 L166.08,191.1 L165.89,190.6 L165.69,190.1 L165.50,189.6 L165.30,189.1 L165.11,188.6 L164.91,188.1 L164.71,187.6 L164.52,187.1 L164.32,186.6 L164.11,186.1 L163.89,185.6 L163.67,185.1 L163.43,184.6 L163.19,184.1 L162.95,183.6 L162.71,183.1 L162.47,182.6 L162.22,182.1 L161.98,181.6 L161.74,181.1 L161.54,180.6 L161.37,180.1 L161.26,179.6 L161.19,179.1 L161.16,178.6 L161.14,178.1 L161.12,177.6 L161.10,177.1 L161.09,176.6 L161.07,176.1 L161.05,175.6 L161.03,175.1 L161.00,174.6 L160.96,174.1 L160.92,173.6 L160.88,173.1 L160.83,172.6 L160.78,172.1 L160.74,171.6 L160.69,171.1 L160.64,170.6 L160.59,170.1 L160.55,169.6 L160.50,169.1 L160.45,168.6 L160.40,168.1 L160.36,167.6 L160.31,167.1 L160.26,166.6 L160.21,166.1 L160.17,165.6 L160.14,165.1 L160.12,164.6 L160.11,164.1 L160.11,163.6 L160.11,163.1 L160.11,162.6 L160.11,162.1 L160.11,161.6 L160.11,161.1 L160.11,160.6 L160.11,160.1 L160.11,159.6 L160.11,159.1 L160.12,158.6 L160.13,158.1 L160.14,157.6 L160.16,157.1 L160.18,156.6 L160.20,156.1 L160.22,155.6 L160.25,155.1 L160.27,154.6 L160.29,154.1 L160.31,153.6 L160.33,153.1 L160.36,152.6 L160.38,152.1 L160.40,151.6 L160.42,151.1 L160.44,150.6 L160.47,150.1 L160.48,149.6 L160.47,149.1 L160.46,148.6 L160.43,148.1 L160.39,147.6 L160.35,147.1 L160.30,146.6 L160.26,146.1 L160.22,145.6 L160.18,145.1 L160.14,144.6 L160.10,144.1 L160.06,143.6 L160.02,143.1 L159.98,142.6 L159.94,142.1 L159.91,141.6 L159.87,141.1 L159.84,140.6 L159.82,140.1 L159.79,139.6 L159.76,139.1 L159.73,138.6 L159.71,138.1 L159.68,137.6 L159.65,137.1 L159.62,136.6 L159.60,136.1 L159.57,135.6 L159.54,135.1 L159.51,134.6 L159.49,134.1 L159.46,133.6 L159.44,133.1 L159.41,132.6 L159.39,132.1 L159.37,131.6 L159.36,131.1 L159.34,130.6 L159.32,130.1 L159.31,129.6 L159.29,129.1 L159.27,128.6 L159.26,128.1 L159.24,127.6 L159.23,127.1 L159.21,126.6 L159.19,126.1 L159.18,125.6 L159.16,125.1 L159.14,124.6 L159.13,124.1 L159.12,123.6Z" fill="#bebdc2"/>
<path d="M183.89,70.0 L183.90,70.5 L183.92,71.0 L183.94,71.5 L183.96,72.0 L183.98,72.5 L184.00,73.0 L184.02,73.5 L184.04,74.0 L184.06,74.5 L184.08,75.0 L184.10,75.5 L184.12,76.0 L184.14,76.5 L184.16,77.0 L184.18,77.5 L184.20,78.0 L184.22,78.5 L184.24,79.0 L184.26,79.5 L184.28,80.0 L184.30,80.5 L184.32,81.0 L184.34,81.5 L184.36,82.0 L184.38,82.5 L184.40,83.0 L184.42,83.5 L184.44,84.0 L184.46,84.5 L184.48,85.0 L184.49,85.5 L184.50,86.0 L184.52,86.5 L184.53,87.0 L184.54,87.5 L184.56,88.0 L184.57,88.5 L184.58,89.0 L184.59,89.5 L184.60,90.0 L184.62,90.5 L184.63,91.0 L184.64,91.5 L184.66,92.0 L184.67,92.5 L184.68,93.0 L184.69,93.5 L184.70,94.0 L184.72,94.5 L184.73,95.0 L184.74,95.5 L184.75,96.0 L184.77,96.5 L184.78,97.0 L184.79,97.5 L184.81,98.0 L184.82,98.5 L184.83,99.0 L184.84,99.5 L184.85,100.0 L184.85,100.5 L184.83,101.0 L184.80,101.5 L184.74,102.0 L184.68,102.5 L184.61,103.0 L184.54,103.5 L184.47,104.0 L184.41,104.5 L184.34,105.0 L184.27,105.5 L184.20,106.0 L184.14,106.5 L184.07,107.0 L184.00,107.5 L183.94,108.0 L183.87,108.5 L183.81,109.0 L183.74,109.5 L183.68,110.0 L183.62,110.5 L183.56,111.0 L183.49,111.5 L183.43,112.0 L183.37,112.5 L183.31,113.0 L183.24,113.5 L183.18,114.0 L183.12,114.5 L183.06,115.0 L182.99,115.5 L182.93,116.0 L182.87,116.5 L182.81,117.0 L182.74,117.5 L182.68,118.0 L182.62,118.5 L182.56,119.0 L182.49,119.5 L182.43,120.0 L182.37,120.5 L182.31,121.0 L182.24,121.5 L182.18,122.0 L182.11,122.5 L182.04,123.0 L181.97,123.5 L181.90,124.0 L181.83,124.5 L181.76,125.0 L181.70,125.5 L181.63,126.0 L181.56,126.5 L181.49,127.0 L181.42,127.5 L181.35,128.0 L181.28,128.5 L181.21,129.0 L181.14,129.5 L181.07,130.0 L181.00,130.5 L180.93,131.0 L180.86,131.5 L180.80,132.0 L180.73,132.5 L180.66,133.0 L180.59,133.5 L180.52,134.0 L180.45,134.5 L180.38,135.0 L180.30,135.5 L180.23,136.0 L180.16,136.5 L180.08,137.0 L180.00,137.5 L179.93,138.0 L179.85,138.5 L179.78,139.0 L179.70,139.5 L179.63,140.0 L179.56,140.5 L179.49,141.0 L179.42,141.5 L179.35,142.0 L179.29,142.5 L179.23,143.0 L179.17,143.5 L179.10,144.0 L179.04,144.5 L178.98,145.0 L178.92,145.5 L178.85,146.0 L178.79,146.5 L178.73,147.0 L178.67,147.5 L178.60,148.0 L178.54,148.5 L178.49,149.0 L178.43,149.5 L178.38,150.0 L178.33,150.5 L178.28,151.0 L178.23,151.5 L178.18,152.0 L178.13,152.5 L178.08,153.0 L178.03,153.5 L177.98,154.0 L177.93,154.5 L177.88,155.0 L177.83,155.5 L177.78,156.0 L177.73,156.5 L177.69,157.0 L177.64,157.5 L177.59,158.0 L177.54,158.5 L177.49,159.0 L177.44,159.5 L177.39,160.0 L177.35,160.5 L177.30,161.0 L177.25,161.5 L177.21,162.0 L177.17,162.5 L177.14,163.0 L177.11,163.5 L177.09,164.0 L177.06,164.5 L177.03,165.0 L177.01,165.5 L176.98,166.0 L176.96,166.5 L176.93,167.0 L176.90,167.5 L176.88,168.0 L176.85,168.5 L176.82,169.0 L176.80,169.5 L176.77,170.0 L176.75,170.5 L176.72,171.0 L176.69,171.5 L176.67,172.0 L176.64,172.5 L176.62,173.0 L176.59,173.5 L176.56,174.0 L176.54,174.5 L176.51,175.0 L176.49,175.5 L176.48,176.0 L176.47,176.5 L176.46,177.0 L176.45,177.5 L176.44,178.0 L176.44,178.5 L176.43,179.0 L176.42,179.5 L176.41,180.0 L176.41,180.5 L176.40,181.0 L176.39,181.5 L176.38,182.0 L176.38,182.5 L176.37,183.0 L176.36,183.5 L176.35,184.0 L176.35,184.5 L176.34,185.0 L176.33,185.5 L176.32,186.0 L176.32,186.5 L176.31,187.0 L176.30,187.5 L176.29,188.0 L176.29,188.5 L176.30,189.0 L176.30,189.5 L176.32,190.0 L176.34,190.5 L176.35,191.0 L176.37,191.5 L176.39,192.0 L176.41,192.5 L176.43,193.0 L176.45,193.5 L176.47,194.0 L176.48,194.5 L176.50,195.0 L176.52,195.5 L176.54,196.0 L176.56,196.5 L176.58,197.0 L176.59,197.5 L176.61,198.0 L176.63,198.5 L176.65,199.0 L176.67,199.5 L176.69,200.0 L176.71,200.5 L176.72,201.0 L176.74,201.5 L176.77,202.0 L176.82,202.5 L176.88,203.0 L176.95,203.5 L177.04,204.0 L177.12,204.5 L177.21,205.0 L177.29,205.5 L177.38,206.0 L177.46,206.5 L177.55,207.0 L177.63,207.5 L177.72,208.0 L177.80,208.5 L177.89,209.0 L177.97,209.5 L178.06,210.0 L178.14,210.5 L178.23,211.0 L178.31,211.5 L178.40,212.0 L178.48,212.5 L178.57,213.0 L178.65,213.5 L178.74,214.0 L178.82,214.5 L178.91,215.0 L178.99,215.5 L179.07,216.0 L179.15,216.5 L179.23,217.0 L179.30,217.5 L179.38,218.0 L179.45,218.5 L179.53,219.0 L179.60,219.5 L179.68,220.0 L179.75,220.5 L179.83,221.0 L179.90,221.5 L179.98,222.0 L180.05,222.5 L180.12,223.0 L180.20,223.5 L180.27,224.0 L180.35,224.5 L180.42,225.0 L180.50,225.5 L180.57,226.0 L180.65,226.5 L180.72,227.0 L180.80,227.5 L180.87,228.0 L180.95,228.5 L181.03,229.0 L181.11,229.5 L181.20,230.0 L181.29,230.5 L181.39,231.0 L181.49,231.5 L181.59,232.0 L181.68,232.5 L181.78,233.0 L181.88,233.5 L181.97,234.0 L182.07,234.5 L182.17,235.0 L182.27,235.5 L182.36,236.0 L182.46,236.5 L182.56,237.0 L182.66,237.5 L182.75,238.0 L182.85,238.5 L182.95,239.0 L183.05,239.5 L183.15,240.0 L183.26,240.5 L183.37,241.0 L183.48,241.5 L183.60,242.0 L183.71,242.5 L183.83,243.0 L183.95,243.5 L184.04,244.0 L184.11,244.5 L186.65,244.5 L186.72,244.0 L186.81,243.5 L186.93,243.0 L187.05,242.5 L187.16,242.0 L187.28,241.5 L187.39,241.0 L187.50,240.5 L187.61,240.0 L187.71,239.5 L187.81,239.0 L187.91,238.5 L188.01,238.0 L188.10,237.5 L188.20,237.0 L188.30,236.5 L188.40,236.0 L188.49,235.5 L188.59,235.0 L188.69,234.5 L188.79,234.0 L188.88,233.5 L188.98,233.0 L189.08,232.5 L189.17,232.0 L189.27,231.5 L189.37,231.0 L189.47,230.5 L189.56,230.0 L189.65,229.5 L189.73,229.0 L189.81,228.5 L189.89,228.0 L189.96,227.5 L190.04,227.0 L190.11,226.5 L190.19,226.0 L190.26,225.5 L190.34,225.0 L190.41,224.5 L190.49,224.0 L190.56,223.5 L190.64,223.0 L190.71,222.5 L190.78,222.0 L190.86,221.5 L190.93,221.0 L191.01,220.5 L191.08,220.0 L191.16,219.5 L191.23,219.0 L191.31,218.5 L191.38,218.0 L191.46,217.5 L191.53,217.0 L191.61,216.5 L191.69,216.0 L191.77,215.5 L191.85,215.0 L191.94,214.5 L192.02,214.0 L192.11,213.5 L192.19,213.0 L192.28,212.5 L192.36,212.0 L192.45,211.5 L192.53,211.0 L192.62,210.5 L192.70,210.0 L192.79,209.5 L192.87,209.0 L192.96,208.5 L193.04,208.0 L193.13,207.5 L193.21,207.0 L193.30,206.5 L193.38,206.0 L193.47,205.5 L193.55,205.0 L193.64,204.5 L193.72,204.0 L193.81,203.5 L193.88,203.0 L193.94,202.5 L193.99,202.0 L194.02,201.5 L194.04,201.0 L194.05,200.5 L194.07,200.0 L194.09,199.5 L194.11,199.0 L194.13,198.5 L194.15,198.0 L194.17,197.5 L194.18,197.0 L194.20,196.5 L194.22,196.0 L194.24,195.5 L194.26,195.0 L194.28,194.5 L194.29,194.0 L194.31,193.5 L194.33,193.0 L194.35,192.5 L194.37,192.0 L194.39,191.5 L194.41,191.0 L194.42,190.5 L194.44,190.0 L194.46,189.5 L194.46,189.0 L194.47,188.5 L194.47,188.0 L194.46,187.5 L194.45,187.0 L194.44,186.5 L194.44,186.0 L194.43,185.5 L194.42,185.0 L194.41,184.5 L194.41,184.0 L194.40,183.5 L194.39,183.0 L194.38,182.5 L194.38,182.0 L194.37,181.5 L194.36,181.0 L194.35,180.5 L194.35,180.0 L194.34,179.5 L194.33,179.0 L194.32,178.5 L194.32,178.0 L194.31,177.5 L194.30,177.0 L194.29,176.5 L194.28,176.0 L194.27,175.5 L194.25,175.0 L194.22,174.5 L194.20,174.0 L194.17,173.5 L194.14,173.0 L194.12,172.5 L194.09,172.0 L194.07,171.5 L194.04,171.0 L194.01,170.5 L193.99,170.0 L193.96,169.5 L193.94,169.0 L193.91,168.5 L193.88,168.0 L193.86,167.5 L193.83,167.0 L193.80,166.5 L193.78,166.0 L193.75,165.5 L193.73,165.0 L193.70,164.5 L193.67,164.0 L193.65,163.5 L193.62,163.0 L193.59,162.5 L193.55,162.0 L193.51,161.5 L193.46,161.0 L193.41,160.5 L193.37,160.0 L193.32,159.5 L193.27,159.0 L193.22,158.5 L193.17,158.0 L193.12,157.5 L193.07,157.0 L193.03,156.5 L192.98,156.0 L192.93,155.5 L192.88,155.0 L192.83,154.5 L192.78,154.0 L192.73,153.5 L192.68,153.0 L192.63,152.5 L192.58,152.0 L192.53,151.5 L192.48,151.0 L192.43,150.5 L192.38,150.0 L192.33,149.5 L192.27,149.0 L192.22,148.5 L192.16,148.0 L192.09,147.5 L192.03,147.0 L191.97,146.5 L191.91,146.0 L191.84,145.5 L191.78,145.0 L191.72,144.5 L191.66,144.0 L191.59,143.5 L191.53,143.0 L191.47,142.5 L191.41,142.0 L191.34,141.5 L191.27,141.0 L191.20,140.5 L191.13,140.0 L191.06,139.5 L190.98,139.0 L190.91,138.5 L190.83,138.0 L190.75,137.5 L190.68,137.0 L190.60,136.5 L190.53,136.0 L190.46,135.5 L190.38,135.0 L190.31,134.5 L190.24,134.0 L190.17,133.5 L190.10,133.0 L190.03,132.5 L189.96,132.0 L189.90,131.5 L189.83,131.0 L189.76,130.5 L189.69,130.0 L189.62,129.5 L189.55,129.0 L189.48,128.5 L189.41,128.0 L189.34,127.5 L189.27,127.0 L189.20,126.5 L189.13,126.0 L189.06,125.5 L189.00,125.0 L188.93,124.5 L188.86,124.0 L188.79,123.5 L188.72,123.0 L188.65,122.5 L188.58,122.0 L188.52,121.5 L188.45,121.0 L188.39,120.5 L188.33,120.0 L188.27,119.5 L188.20,119.0 L188.14,118.5 L188.08,118.0 L188.02,117.5 L187.95,117.0 L187.89,116.5 L187.83,116.0 L187.77,115.5 L187.70,115.0 L187.64,114.5 L187.58,114.0 L187.52,113.5 L187.45,113.0 L187.39,112.5 L187.33,112.0 L187.27,111.5 L187.20,111.0 L187.14,110.5 L187.08,110.0 L187.02,109.5 L186.95,109.0 L186.89,108.5 L186.82,108.0 L186.76,107.5 L186.69,107.0 L186.62,106.5 L186.56,106.0 L186.49,105.5 L186.42,105.0 L186.35,104.5 L186.29,104.0 L186.22,103.5 L186.15,103.0 L186.08,102.5 L186.02,102.0 L185.96,101.5 L185.93,101.0 L185.91,100.5 L185.91,100.0 L185.92,99.5 L185.93,99.0 L185.94,98.5 L185.95,98.0 L185.97,97.5 L185.98,97.0 L185.99,96.5 L186.00,96.0 L186.02,95.5 L186.03,95.0 L186.04,94.5 L186.06,94.0 L186.07,93.5 L186.08,93.0 L186.09,92.5 L186.10,92.0 L186.12,91.5 L186.13,91.0 L186.14,90.5 L186.16,90.0 L186.17,89.5 L186.18,89.0 L186.19,88.5 L186.20,88.0 L186.22,87.5 L186.23,87.0 L186.24,86.5 L186.25,86.0 L186.27,85.5 L186.28,85.0 L186.30,84.5 L186.32,84.0 L186.34,83.5 L186.36,83.0 L186.38,82.5 L186.40,82.0 L186.42,81.5 L186.44,81.0 L186.46,80.5 L186.48,80.0 L186.50,79.5 L186.52,79.0 L186.54,78.5 L186.56,78.0 L186.58,77.5 L186.60,77.0 L186.62,76.5 L186.64,76.0 L186.66,75.5 L186.68,75.0 L186.70,74.5 L186.72,74.0 L186.74,73.5 L186.76,73.0 L186.78,72.5 L186.80,72.0 L186.82,71.5 L186.84,71.0 L186.86,70.5 L186.87,70.0Z" fill="#bebdc2"/>
<path d="M210.80,108.3 L210.68,108.8 L210.56,109.3 L210.44,109.8 L210.37,110.3 L210.35,110.8 L210.35,111.3 L210.35,111.8 L210.35,112.3 L210.35,112.8 L210.35,113.3 L210.35,113.8 L210.35,114.3 L210.35,114.8 L210.35,115.3 L210.35,115.8 L210.35,116.3 L210.35,116.8 L210.35,117.3 L210.35,117.8 L210.35,118.3 L210.35,118.8 L210.35,119.3 L210.35,119.8 L210.36,120.3 L210.38,120.8 L210.41,121.3 L210.46,121.8 L210.52,122.3 L210.59,122.8 L210.66,123.3 L210.72,123.8 L210.78,124.3 L210.84,124.8 L210.89,125.3 L210.95,125.8 L211.01,126.3 L211.06,126.8 L211.12,127.3 L211.17,127.8 L211.23,128.3 L211.28,128.8 L211.34,129.3 L211.39,129.8 L211.45,130.3 L211.51,130.8 L211.56,131.3 L211.62,131.8 L211.67,132.3 L211.72,132.8 L211.76,133.3 L211.80,133.8 L211.84,134.3 L211.87,134.8 L211.90,135.3 L211.94,135.8 L211.97,136.3 L212.00,136.8 L212.04,137.3 L212.07,137.8 L212.10,138.3 L212.14,138.8 L212.17,139.3 L212.20,139.8 L212.24,140.3 L212.27,140.8 L212.30,141.3 L212.33,141.8 L212.35,142.3 L212.36,142.8 L212.37,143.3 L212.38,143.8 L212.39,144.3 L212.40,144.8 L212.41,145.3 L212.42,145.8 L212.43,146.3 L212.44,146.8 L212.45,147.3 L212.46,147.8 L212.47,148.3 L212.48,148.8 L212.49,149.3 L212.49,149.8 L212.50,150.3 L212.50,150.8 L212.50,151.3 L212.50,151.8 L212.49,152.3 L212.49,152.8 L212.49,153.3 L212.49,153.8 L212.49,154.3 L212.49,154.8 L212.49,155.3 L212.48,155.8 L212.48,156.3 L212.48,156.8 L212.48,157.3 L212.48,157.8 L212.48,158.3 L212.48,158.8 L212.47,159.3 L212.47,159.8 L212.47,160.3 L212.47,160.8 L212.47,161.3 L212.47,161.8 L212.47,162.3 L212.46,162.8 L212.46,163.3 L212.46,163.8 L212.46,164.3 L212.46,164.8 L212.46,165.3 L212.46,165.8 L212.45,166.3 L212.45,166.8 L212.44,167.3 L212.42,167.8 L212.39,168.3 L212.35,168.8 L212.29,169.3 L212.22,169.8 L212.16,170.3 L212.10,170.8 L212.03,171.3 L211.97,171.8 L211.89,172.3 L211.81,172.8 L211.73,173.3 L211.65,173.8 L211.57,174.3 L211.48,174.8 L211.40,175.3 L211.32,175.8 L211.23,176.3 L211.15,176.8 L211.06,177.3 L210.97,177.8 L210.88,178.3 L210.78,178.8 L210.67,179.3 L210.56,179.8 L210.46,180.3 L210.35,180.8 L210.24,181.3 L210.14,181.8 L210.03,182.3 L209.92,182.8 L209.81,183.3 L209.71,183.8 L209.60,184.3 L209.49,184.8 L209.39,185.3 L209.26,185.8 L209.12,186.3 L208.96,186.8 L208.78,187.3 L208.58,187.8 L208.38,188.3 L208.17,188.8 L207.97,189.3 L207.77,189.8 L207.56,190.3 L207.36,190.8 L207.16,191.3 L206.95,191.8 L206.75,192.3 L206.55,192.8 L206.34,193.3 L206.14,193.8 L205.94,194.3 L205.75,194.8 L205.57,195.3 L205.42,195.8 L205.28,196.3 L205.17,196.8 L205.06,197.3 L204.95,197.8 L204.84,198.3 L204.73,198.8 L204.62,199.3 L204.51,199.8 L204.42,200.3 L204.35,200.8 L204.31,201.3 L204.29,201.8 L204.29,202.3 L204.31,202.8 L204.33,203.3 L204.34,203.8 L204.36,204.3 L204.38,204.8 L204.39,205.3 L204.41,205.8 L204.43,206.3 L204.44,206.8 L204.46,207.3 L204.48,207.8 L204.49,208.3 L204.51,208.8 L204.55,209.3 L204.63,209.8 L204.75,210.3 L204.90,210.8 L205.10,211.3 L205.31,211.8 L205.52,212.3 L205.73,212.8 L205.94,213.3 L206.15,213.8 L206.36,214.3 L206.57,214.8 L206.79,215.3 L206.96,215.8 L207.10,216.3 L207.19,216.4 L218.31,216.4 L218.40,216.3 L218.54,215.8 L218.71,215.3 L218.93,214.8 L219.14,214.3 L219.35,213.8 L219.56,213.3 L219.77,212.8 L219.98,212.3 L220.19,211.8 L220.40,211.3 L220.60,210.8 L220.75,210.3 L220.87,209.8 L220.95,209.3 L220.99,208.8 L221.01,208.3 L221.02,207.8 L221.04,207.3 L221.06,206.8 L221.07,206.3 L221.09,205.8 L221.11,205.3 L221.12,204.8 L221.14,204.3 L221.16,203.8 L221.17,203.3 L221.19,202.8 L221.21,202.3 L221.21,201.8 L221.19,201.3 L221.15,200.8 L221.08,200.3 L220.99,199.8 L220.88,199.3 L220.77,198.8 L220.66,198.3 L220.55,197.8 L220.44,197.3 L220.33,196.8 L220.22,196.3 L220.08,195.8 L219.93,195.3 L219.75,194.8 L219.56,194.3 L219.36,193.8 L219.16,193.3 L218.95,192.8 L218.75,192.3 L218.55,191.8 L218.34,191.3 L218.14,190.8 L217.94,190.3 L217.73,189.8 L217.53,189.3 L217.33,188.8 L217.12,188.3 L216.92,187.8 L216.72,187.3 L216.54,186.8 L216.38,186.3 L216.24,185.8 L216.11,185.3 L216.01,184.8 L215.90,184.3 L215.79,183.8 L215.69,183.3 L215.58,182.8 L215.47,182.3 L215.36,181.8 L215.26,181.3 L215.15,180.8 L215.04,180.3 L214.94,179.8 L214.83,179.3 L214.72,178.8 L214.62,178.3 L214.53,177.8 L214.44,177.3 L214.35,176.8 L214.27,176.3 L214.18,175.8 L214.10,175.3 L214.02,174.8 L213.93,174.3 L213.85,173.8 L213.77,173.3 L213.69,172.8 L213.61,172.3 L213.53,171.8 L213.47,171.3 L213.40,170.8 L213.34,170.3 L213.28,169.8 L213.21,169.3 L213.15,168.8 L213.11,168.3 L213.08,167.8 L213.06,167.3 L213.05,166.8 L213.05,166.3 L213.04,165.8 L213.04,165.3 L213.04,164.8 L213.04,164.3 L213.04,163.8 L213.04,163.3 L213.04,162.8 L213.03,162.3 L213.03,161.8 L213.03,161.3 L213.03,160.8 L213.03,160.3 L213.03,159.8 L213.03,159.3 L213.02,158.8 L213.02,158.3 L213.02,157.8 L213.02,157.3 L213.02,156.8 L213.02,156.3 L213.02,155.8 L213.01,155.3 L213.01,154.8 L213.01,154.3 L213.01,153.8 L213.01,153.3 L213.01,152.8 L213.01,152.3 L213.00,151.8 L213.00,151.3 L213.00,150.8 L213.00,150.3 L213.01,149.8 L213.01,149.3 L213.02,148.8 L213.03,148.3 L213.04,147.8 L213.05,147.3 L213.06,146.8 L213.07,146.3 L213.08,145.8 L213.09,145.3 L213.10,144.8 L213.11,144.3 L213.12,143.8 L213.13,143.3 L213.14,142.8 L213.15,142.3 L213.17,141.8 L213.20,141.3 L213.23,140.8 L213.26,140.3 L213.30,139.8 L213.33,139.3 L213.36,138.8 L213.40,138.3 L213.43,137.8 L213.46,137.3 L213.50,136.8 L213.53,136.3 L213.56,135.8 L213.60,135.3 L213.63,134.8 L213.66,134.3 L213.70,133.8 L213.74,133.3 L213.78,132.8 L213.83,132.3 L213.88,131.8 L213.94,131.3 L213.99,130.8 L214.05,130.3 L214.11,129.8 L214.16,129.3 L214.22,128.8 L214.27,128.3 L214.33,127.8 L214.38,127.3 L214.44,126.8 L214.49,126.3 L214.55,125.8 L214.61,125.3 L214.66,124.8 L214.72,124.3 L214.78,123.8 L214.84,123.3 L214.91,122.8 L214.98,122.3 L215.04,121.8 L215.09,121.3 L215.12,120.8 L215.14,120.3 L215.15,119.8 L215.15,119.3 L215.15,118.8 L215.15,118.3 L215.15,117.8 L215.15,117.3 L215.15,116.8 L215.15,116.3 L215.15,115.8 L215.15,115.3 L215.15,114.8 L215.15,114.3 L215.15,113.8 L215.15,113.3 L215.15,112.8 L215.15,112.3 L215.15,111.8 L215.15,111.3 L215.15,110.8 L215.13,110.3 L215.06,109.8 L214.94,109.3 L214.82,108.8 L214.70,108.3Z" fill="#bebdc2"/>
<path d="M238.35,139.0 L238.38,139.5 L238.42,140.0 L238.47,140.5 L238.52,141.0 L238.57,141.5 L238.62,142.0 L238.67,142.5 L238.72,143.0 L238.77,143.5 L238.82,144.0 L238.86,144.5 L238.89,145.0 L238.92,145.5 L238.93,146.0 L238.94,146.5 L238.95,147.0 L238.95,147.5 L238.96,148.0 L238.97,148.5 L238.97,149.0 L238.98,149.5 L238.99,150.0 L238.99,150.5 L239.00,151.0 L239.01,151.5 L239.01,152.0 L239.02,152.5 L239.03,153.0 L239.03,153.5 L239.04,154.0 L239.05,154.5 L239.05,155.0 L239.06,155.5 L239.07,156.0 L239.07,156.5 L239.08,157.0 L239.09,157.5 L239.09,158.0 L239.10,158.5 L239.11,159.0 L239.11,159.5 L239.11,160.0 L239.10,160.5 L239.09,161.0 L239.08,161.5 L239.06,162.0 L239.05,162.5 L239.03,163.0 L239.02,163.5 L239.00,164.0 L238.99,164.5 L238.98,165.0 L238.96,165.5 L238.95,166.0 L238.93,166.5 L238.92,167.0 L238.90,167.5 L238.89,168.0 L238.87,168.5 L238.86,169.0 L238.85,169.5 L238.83,170.0 L238.82,170.5 L238.80,171.0 L238.79,171.5 L238.77,172.0 L238.76,172.5 L238.74,173.0 L238.73,173.5 L238.72,174.0 L238.70,174.5 L238.69,175.0 L238.67,175.5 L238.66,176.0 L238.63,176.5 L238.57,177.0 L238.49,177.5 L238.37,178.0 L238.22,178.5 L238.06,179.0 L237.89,179.5 L237.73,180.0 L237.57,180.5 L237.40,181.0 L237.24,181.5 L237.07,182.0 L236.91,182.5 L236.74,183.0 L236.58,183.5 L236.41,184.0 L236.25,184.5 L236.08,185.0 L235.91,185.5 L235.74,186.0 L235.55,186.5 L235.34,187.0 L235.13,187.5 L234.91,188.0 L234.69,188.5 L234.46,189.0 L234.24,189.5 L234.02,190.0 L233.80,190.5 L233.58,191.0 L233.35,191.5 L233.13,192.0 L232.91,192.5 L232.71,193.0 L232.53,193.5 L232.37,194.0 L232.24,194.5 L232.14,195.0 L232.03,195.5 L231.93,196.0 L231.83,196.5 L231.73,197.0 L231.63,197.5 L231.53,198.0 L231.42,198.5 L231.32,199.0 L231.24,199.5 L231.18,200.0 L249.06,200.0 L249.00,199.5 L248.92,199.0 L248.82,198.5 L248.71,198.0 L248.61,197.5 L248.51,197.0 L248.41,196.5 L248.31,196.0 L248.21,195.5 L248.10,195.0 L248.00,194.5 L247.87,194.0 L247.71,193.5 L247.53,193.0 L247.33,192.5 L247.11,192.0 L246.89,191.5 L246.66,191.0 L246.44,190.5 L246.22,190.0 L246.00,189.5 L245.78,189.0 L245.55,188.5 L245.33,188.0 L245.11,187.5 L244.90,187.0 L244.69,186.5 L244.50,186.0 L244.33,185.5 L244.16,185.0 L243.99,184.5 L243.83,184.0 L243.66,183.5 L243.50,183.0 L243.33,182.5 L243.17,182.0 L243.00,181.5 L242.84,181.0 L242.67,180.5 L242.51,180.0 L242.35,179.5 L242.18,179.0 L242.02,178.5 L241.87,178.0 L241.75,177.5 L241.67,177.0 L241.61,176.5 L241.58,176.0 L241.57,175.5 L241.55,175.0 L241.54,174.5 L241.52,174.0 L241.51,173.5 L241.50,173.0 L241.48,172.5 L241.47,172.0 L241.45,171.5 L241.44,171.0 L241.42,170.5 L241.41,170.0 L241.39,169.5 L241.38,169.0 L241.37,168.5 L241.35,168.0 L241.34,167.5 L241.32,167.0 L241.31,166.5 L241.29,166.0 L241.28,165.5 L241.26,165.0 L241.25,164.5 L241.24,164.0 L241.22,163.5 L241.21,163.0 L241.19,162.5 L241.18,162.0 L241.16,161.5 L241.15,161.0 L241.14,160.5 L241.13,160.0 L241.13,159.5 L241.13,159.0 L241.14,158.5 L241.15,158.0 L241.15,157.5 L241.16,157.0 L241.17,156.5 L241.17,156.0 L241.18,155.5 L241.19,155.0 L241.19,154.5 L241.20,154.0 L241.21,153.5 L241.21,153.0 L241.22,152.5 L241.23,152.0 L241.23,151.5 L241.24,151.0 L241.25,150.5 L241.25,150.0 L241.26,149.5 L241.27,149.0 L241.27,148.5 L241.28,148.0 L241.29,147.5 L241.29,147.0 L241.30,146.5 L241.31,146.0 L241.32,145.5 L241.35,145.0 L241.38,144.5 L241.42,144.0 L241.47,143.5 L241.52,143.0 L241.57,142.5 L241.62,142.0 L241.67,141.5 L241.72,141.0 L241.77,140.5 L241.82,140.0 L241.86,139.5 L241.89,139.0Z" fill="#bebdc2"/>
<path d="M263.20,70.5 L263.20,71.0 L263.21,71.5 L263.23,72.0 L263.24,72.5 L263.25,73.0 L263.26,73.5 L263.27,74.0 L263.28,74.5 L263.30,75.0 L263.31,75.5 L263.32,76.0 L263.33,76.5 L263.34,77.0 L263.36,77.5 L263.37,78.0 L263.38,78.5 L263.39,79.0 L263.40,79.5 L263.42,80.0 L263.43,80.5 L263.44,81.0 L263.45,81.5 L263.46,82.0 L263.47,82.5 L263.49,83.0 L263.50,83.5 L263.51,84.0 L263.52,84.5 L263.53,85.0 L263.55,85.5 L263.56,86.0 L263.57,86.5 L263.58,87.0 L263.59,87.5 L263.61,88.0 L263.62,88.5 L263.63,89.0 L263.64,89.5 L263.65,90.0 L263.66,90.5 L263.68,91.0 L263.69,91.5 L263.70,92.0 L263.71,92.5 L263.72,93.0 L263.74,93.5 L263.75,94.0 L263.76,94.5 L263.77,95.0 L263.78,95.5 L263.80,96.0 L263.81,96.5 L263.82,97.0 L263.83,97.5 L263.84,98.0 L263.85,98.5 L263.87,99.0 L263.88,99.5 L263.89,100.0 L263.91,100.5 L263.93,101.0 L263.95,101.5 L263.97,102.0 L263.99,102.5 L264.01,103.0 L264.03,103.5 L264.05,104.0 L264.07,104.5 L264.09,105.0 L264.11,105.5 L264.13,106.0 L264.15,106.5 L264.17,107.0 L264.19,107.5 L264.21,108.0 L264.23,108.5 L264.25,109.0 L264.28,109.5 L264.32,110.0 L264.36,110.5 L264.42,111.0 L264.48,111.5 L264.54,112.0 L264.60,112.5 L264.67,113.0 L264.73,113.5 L264.79,114.0 L264.85,114.5 L264.92,115.0 L264.98,115.5 L265.04,116.0 L265.10,116.5 L265.17,117.0 L265.23,117.5 L265.29,118.0 L265.35,118.5 L265.42,119.0 L265.48,119.5 L265.54,120.0 L265.60,120.5 L265.67,121.0 L265.72,121.5 L265.76,122.0 L265.80,122.5 L265.82,123.0 L265.84,123.5 L265.86,124.0 L265.87,124.5 L265.89,125.0 L265.91,125.5 L265.92,126.0 L265.94,126.5 L265.96,127.0 L265.97,127.5 L265.99,128.0 L266.01,128.5 L266.02,129.0 L266.04,129.5 L266.06,130.0 L266.07,130.5 L266.09,131.0 L266.11,131.5 L266.12,132.0 L266.14,132.5 L266.16,133.0 L266.16,133.5 L266.15,134.0 L266.13,134.5 L266.10,135.0 L266.06,135.5 L266.01,136.0 L265.97,136.5 L265.92,137.0 L265.88,137.5 L265.84,138.0 L265.79,138.5 L265.75,139.0 L265.70,139.5 L265.66,140.0 L265.61,140.5 L265.57,141.0 L265.52,141.5 L265.48,142.0 L265.44,142.5 L265.39,143.0 L265.35,143.5 L265.30,144.0 L265.26,144.5 L265.21,145.0 L265.17,145.5 L265.12,146.0 L265.06,146.5 L265.00,147.0 L264.93,147.5 L264.85,148.0 L264.78,148.5 L264.70,149.0 L264.63,149.5 L264.55,150.0 L264.48,150.5 L264.41,151.0 L264.33,151.5 L264.26,152.0 L264.18,152.5 L264.11,153.0 L264.03,153.5 L263.96,154.0 L263.89,154.5 L263.81,155.0 L263.74,155.5 L263.66,156.0 L263.59,156.5 L263.51,157.0 L263.44,157.5 L263.36,158.0 L263.29,158.5 L263.22,159.0 L263.14,159.5 L263.07,160.0 L262.99,160.5 L262.92,161.0 L262.85,161.5 L262.77,162.0 L262.70,162.5 L262.63,163.0 L262.55,163.5 L262.48,164.0 L262.40,164.5 L262.33,165.0 L262.26,165.5 L262.18,166.0 L262.11,166.5 L262.04,167.0 L261.96,167.5 L261.89,168.0 L261.81,168.5 L261.74,169.0 L261.67,169.5 L261.60,170.0 L261.53,170.5 L261.48,171.0 L261.42,171.5 L261.38,172.0 L261.34,172.5 L261.29,173.0 L261.25,173.5 L261.21,174.0 L261.16,174.5 L261.12,175.0 L261.08,175.5 L261.03,176.0 L260.99,176.5 L260.95,177.0 L260.91,177.5 L260.86,178.0 L260.82,178.5 L260.78,179.0 L260.73,179.5 L260.67,180.0 L260.61,180.5 L260.55,181.0 L260.48,181.5 L260.41,182.0 L260.34,182.5 L260.27,183.0 L260.20,183.5 L260.13,184.0 L260.06,184.5 L259.99,185.0 L259.92,185.5 L259.85,186.0 L259.78,186.5 L259.71,187.0 L259.64,187.5 L259.57,188.0 L259.50,188.5 L259.43,189.0 L259.37,189.5 L259.31,190.0 L259.27,190.5 L259.23,191.0 L259.20,191.5 L259.17,192.0 L259.13,192.5 L259.10,193.0 L259.07,193.5 L259.04,194.0 L259.01,194.5 L258.98,195.0 L258.95,195.5 L258.92,196.0 L258.88,196.5 L258.85,197.0 L258.83,197.5 L258.81,198.0 L258.80,198.5 L258.79,199.0 L258.79,199.5 L258.79,200.0 L258.79,200.5 L258.79,201.0 L258.79,201.5 L258.79,202.0 L258.79,202.5 L258.79,203.0 L258.79,203.5 L258.79,204.0 L258.79,204.5 L258.79,205.0 L258.79,205.5 L258.79,206.0 L258.79,206.5 L258.79,207.0 L258.79,207.5 L258.79,208.0 L258.79,208.5 L258.79,209.0 L258.79,209.5 L258.79,210.0 L258.80,210.5 L258.82,211.0 L258.85,211.5 L258.89,212.0 L258.94,212.5 L258.99,213.0 L259.04,213.5 L259.09,214.0 L259.14,214.5 L259.19,215.0 L259.24,215.5 L259.29,216.0 L259.34,216.5 L259.39,217.0 L259.44,217.5 L259.49,218.0 L259.54,218.5 L259.59,219.0 L259.64,219.5 L259.69,220.0 L259.74,220.5 L259.79,221.0 L259.84,221.5 L259.89,222.0 L259.94,222.5 L259.99,223.0 L260.05,223.5 L260.12,224.0 L260.20,224.5 L260.29,225.0 L260.39,225.5 L260.49,226.0 L260.59,226.5 L260.69,227.0 L260.79,227.5 L260.89,228.0 L260.99,228.5 L261.09,229.0 L261.19,229.5 L261.29,230.0 L261.39,230.5 L261.49,231.0 L261.59,231.5 L261.69,232.0 L261.79,232.5 L261.89,233.0 L261.99,233.5 L262.09,234.0 L262.19,234.5 L262.29,235.0 L262.39,235.5 L262.49,236.0 L262.59,236.5 L262.70,237.0 L262.81,237.5 L262.92,238.0 L263.04,238.5 L263.16,239.0 L263.27,239.5 L263.39,240.0 L263.51,240.5 L263.63,241.0 L263.74,241.5 L263.86,242.0 L263.98,242.5 L264.09,243.0 L264.21,243.5 L264.35,244.0 L264.53,244.5 L264.69,245.0 L264.82,245.5 L270.16,245.5 L270.29,245.0 L270.45,244.5 L270.63,244.0 L270.77,243.5 L270.89,243.0 L271.00,242.5 L271.12,242.0 L271.24,241.5 L271.35,241.0 L271.47,240.5 L271.59,240.0 L271.71,239.5 L271.82,239.0 L271.94,238.5 L272.06,238.0 L272.17,237.5 L272.28,237.0 L272.39,236.5 L272.49,236.0 L272.59,235.5 L272.69,235.0 L272.79,234.5 L272.89,234.0 L272.99,233.5 L273.09,233.0 L273.19,232.5 L273.29,232.0 L273.39,231.5 L273.49,231.0 L273.59,230.5 L273.69,230.0 L273.79,229.5 L273.89,229.0 L273.99,228.5 L274.09,228.0 L274.19,227.5 L274.29,227.0 L274.39,226.5 L274.49,226.0 L274.59,225.5 L274.69,225.0 L274.78,224.5 L274.86,224.0 L274.93,223.5 L274.99,223.0 L275.04,222.5 L275.09,222.0 L275.14,221.5 L275.19,221.0 L275.24,220.5 L275.29,220.0 L275.34,219.5 L275.39,219.0 L275.44,218.5 L275.49,218.0 L275.54,217.5 L275.59,217.0 L275.64,216.5 L275.69,216.0 L275.74,215.5 L275.79,215.0 L275.84,214.5 L275.89,214.0 L275.94,213.5 L275.99,213.0 L276.04,212.5 L276.09,212.0 L276.13,211.5 L276.16,211.0 L276.18,210.5 L276.19,210.0 L276.19,209.5 L276.19,209.0 L276.19,208.5 L276.19,208.0 L276.19,207.5 L276.19,207.0 L276.19,206.5 L276.19,206.0 L276.19,205.5 L276.19,205.0 L276.19,204.5 L276.19,204.0 L276.19,203.5 L276.19,203.0 L276.19,202.5 L276.19,202.0 L276.19,201.5 L276.19,201.0 L276.19,200.5 L276.19,200.0 L276.19,199.5 L276.19,199.0 L276.18,198.5 L276.17,198.0 L276.15,197.5 L276.13,197.0 L276.10,196.5 L276.06,196.0 L276.03,195.5 L276.00,195.0 L275.97,194.5 L275.94,194.0 L275.91,193.5 L275.88,193.0 L275.85,192.5 L275.81,192.0 L275.78,191.5 L275.75,191.0 L275.71,190.5 L275.67,190.0 L275.61,189.5 L275.55,189.0 L275.48,188.5 L275.41,188.0 L275.34,187.5 L275.27,187.0 L275.20,186.5 L275.13,186.0 L275.06,185.5 L274.99,185.0 L274.92,184.5 L274.85,184.0 L274.78,183.5 L274.71,183.0 L274.64,182.5 L274.57,182.0 L274.50,181.5 L274.43,181.0 L274.37,180.5 L274.31,180.0 L274.25,179.5 L274.20,179.0 L274.16,178.5 L274.12,178.0 L274.07,177.5 L274.03,177.0 L273.99,176.5 L273.95,176.0 L273.90,175.5 L273.86,175.0 L273.82,174.5 L273.77,174.0 L273.73,173.5 L273.69,173.0 L273.64,172.5 L273.60,172.0 L273.56,171.5 L273.50,171.0 L273.45,170.5 L273.38,170.0 L273.31,169.5 L273.24,169.0 L273.17,168.5 L273.09,168.0 L273.02,167.5 L272.94,167.0 L272.87,166.5 L272.80,166.0 L272.72,165.5 L272.65,165.0 L272.58,164.5 L272.50,164.0 L272.43,163.5 L272.35,163.0 L272.28,162.5 L272.21,162.0 L272.13,161.5 L272.06,161.0 L271.99,160.5 L271.91,160.0 L271.84,159.5 L271.76,159.0 L271.69,158.5 L271.62,158.0 L271.54,157.5 L271.47,157.0 L271.39,156.5 L271.32,156.0 L271.24,155.5 L271.17,155.0 L271.09,154.5 L271.02,154.0 L270.95,153.5 L270.87,153.0 L270.80,152.5 L270.72,152.0 L270.65,151.5 L270.57,151.0 L270.50,150.5 L270.43,150.0 L270.35,149.5 L270.28,149.0 L270.20,148.5 L270.13,148.0 L270.05,147.5 L269.98,147.0 L269.92,146.5 L269.86,146.0 L269.81,145.5 L269.77,145.0 L269.72,144.5 L269.68,144.0 L269.63,143.5 L269.59,143.0 L269.54,142.5 L269.50,142.0 L269.46,141.5 L269.41,141.0 L269.37,140.5 L269.32,140.0 L269.28,139.5 L269.23,139.0 L269.19,138.5 L269.14,138.0 L269.10,137.5 L269.06,137.0 L269.01,136.5 L268.97,136.0 L268.92,135.5 L268.88,135.0 L268.85,134.5 L268.83,134.0 L268.82,133.5 L268.82,133.0 L268.84,132.5 L268.86,132.0 L268.87,131.5 L268.89,131.0 L268.91,130.5 L268.92,130.0 L268.94,129.5 L268.96,129.0 L268.97,128.5 L268.99,128.0 L269.01,127.5 L269.02,127.0 L269.04,126.5 L269.06,126.0 L269.07,125.5 L269.09,125.0 L269.11,124.5 L269.12,124.0 L269.14,123.5 L269.16,123.0 L269.18,122.5 L269.22,122.0 L269.26,121.5 L269.31,121.0 L269.38,120.5 L269.44,120.0 L269.50,119.5 L269.56,119.0 L269.63,118.5 L269.69,118.0 L269.75,117.5 L269.81,117.0 L269.88,116.5 L269.94,116.0 L270.00,115.5 L270.06,115.0 L270.13,114.5 L270.19,114.0 L270.25,113.5 L270.31,113.0 L270.38,112.5 L270.44,112.0 L270.50,111.5 L270.56,111.0 L270.62,110.5 L270.66,110.0 L270.70,109.5 L270.73,109.0 L270.75,108.5 L270.77,108.0 L270.79,107.5 L270.81,107.0 L270.83,106.5 L270.85,106.0 L270.87,105.5 L270.89,105.0 L270.91,104.5 L270.93,104.0 L270.95,103.5 L270.97,103.0 L270.99,102.5 L271.01,102.0 L271.03,101.5 L271.05,101.0 L271.07,100.5 L271.09,100.0 L271.10,99.5 L271.11,99.0 L271.13,98.5 L271.14,98.0 L271.15,97.5 L271.16,97.0 L271.17,96.5 L271.18,96.0 L271.20,95.5 L271.21,95.0 L271.22,94.5 L271.23,94.0 L271.24,93.5 L271.26,93.0 L271.27,92.5 L271.28,92.0 L271.29,91.5 L271.30,91.0 L271.32,90.5 L271.33,90.0 L271.34,89.5 L271.35,89.0 L271.36,88.5 L271.37,88.0 L271.39,87.5 L271.40,87.0 L271.41,86.5 L271.42,86.0 L271.43,85.5 L271.45,85.0 L271.46,84.5 L271.47,84.0 L271.48,83.5 L271.49,83.0 L271.51,82.5 L271.52,82.0 L271.53,81.5 L271.54,81.0 L271.55,80.5 L271.56,80.0 L271.58,79.5 L271.59,79.0 L271.60,78.5 L271.61,78.0 L271.62,77.5 L271.64,77.0 L271.65,76.5 L271.66,76.0 L271.67,75.5 L271.68,75.0 L271.70,74.5 L271.71,74.0 L271.72,73.5 L271.73,73.0 L271.74,72.5 L271.75,72.0 L271.77,71.5 L271.78,71.0 L271.78,70.5Z" fill="#bebdc2"/>
<path d="M287.82,148.6 L287.79,149.1 L287.74,149.6 L287.68,150.1 L287.63,150.6 L287.60,151.1 L287.59,151.6 L287.59,152.1 L287.60,152.6 L287.61,153.1 L287.62,153.6 L287.64,154.1 L287.66,154.6 L287.70,155.1 L287.74,155.6 L287.79,156.1 L287.85,156.6 L287.91,157.1 L287.97,157.6 L288.03,158.1 L288.09,158.6 L288.15,159.1 L288.23,159.6 L288.31,160.1 L288.40,160.6 L288.50,161.1 L288.61,161.6 L288.72,162.1 L288.83,162.6 L288.94,163.1 L289.05,163.6 L289.16,164.1 L289.28,164.6 L289.40,165.1 L289.52,165.6 L289.65,166.1 L289.78,166.6 L289.91,167.1 L290.04,167.6 L290.17,168.1 L290.30,168.6 L290.42,169.1 L290.54,169.6 L290.65,170.1 L290.75,170.6 L290.84,171.1 L290.92,171.6 L291.00,172.1 L291.09,172.6 L291.17,173.1 L291.25,173.6 L291.33,174.1 L291.41,174.6 L291.44,175.1 L291.45,175.6 L291.41,176.1 L291.34,176.6 L291.24,177.1 L291.14,177.6 L291.04,178.1 L290.94,178.6 L290.84,179.1 L290.72,179.6 L290.58,180.1 L290.43,180.6 L290.26,181.1 L290.08,181.6 L289.90,182.1 L289.72,182.6 L289.54,183.1 L289.36,183.6 L289.18,184.1 L289.00,184.6 L288.82,185.1 L288.64,185.6 L288.46,186.1 L288.28,186.6 L288.10,187.1 L287.92,187.6 L287.74,188.1 L287.56,188.6 L287.39,189.1 L287.21,189.6 L287.05,190.1 L286.88,190.6 L286.73,191.1 L286.58,191.6 L286.43,192.1 L286.30,192.6 L286.18,193.1 L286.08,193.6 L286.00,194.1 L285.94,194.6 L285.90,195.0 L303.82,195.0 L303.78,194.6 L303.72,194.1 L303.64,193.6 L303.54,193.1 L303.42,192.6 L303.29,192.1 L303.14,191.6 L302.99,191.1 L302.84,190.6 L302.67,190.1 L302.51,189.6 L302.33,189.1 L302.16,188.6 L301.98,188.1 L301.80,187.6 L301.62,187.1 L301.44,186.6 L301.26,186.1 L301.08,185.6 L300.90,185.1 L300.72,184.6 L300.54,184.1 L300.36,183.6 L300.18,183.1 L300.00,182.6 L299.82,182.1 L299.64,181.6 L299.46,181.1 L299.29,180.6 L299.14,180.1 L299.00,179.6 L298.88,179.1 L298.78,178.6 L298.68,178.1 L298.58,177.6 L298.48,177.1 L298.38,176.6 L298.31,176.1 L298.27,175.6 L298.28,175.1 L298.31,174.6 L298.39,174.1 L298.47,173.6 L298.55,173.1 L298.63,172.6 L298.72,172.1 L298.80,171.6 L298.88,171.1 L298.97,170.6 L299.07,170.1 L299.18,169.6 L299.30,169.1 L299.42,168.6 L299.55,168.1 L299.68,167.6 L299.81,167.1 L299.94,166.6 L300.07,166.1 L300.20,165.6 L300.32,165.1 L300.44,164.6 L300.56,164.1 L300.67,163.6 L300.78,163.1 L300.89,162.6 L301.00,162.1 L301.11,161.6 L301.22,161.1 L301.32,160.6 L301.41,160.1 L301.49,159.6 L301.57,159.1 L301.63,158.6 L301.69,158.1 L301.75,157.6 L301.81,157.1 L301.87,156.6 L301.93,156.1 L301.98,155.6 L302.02,155.1 L302.06,154.6 L302.08,154.1 L302.10,153.6 L302.11,153.1 L302.12,152.6 L302.13,152.1 L302.13,151.6 L302.12,151.1 L302.09,150.6 L302.04,150.1 L301.99,149.6 L301.94,149.1 L301.90,148.6Z" fill="#bebdc2"/>
<path d="M317.02,174.2 L317.01,174.7 L317.00,175.2 L316.99,175.7 L316.97,176.2 L316.96,176.7 L316.94,177.2 L316.93,177.7 L316.91,178.2 L316.90,178.7 L316.88,179.2 L316.87,179.7 L316.86,180.2 L316.84,180.7 L316.83,181.2 L316.81,181.7 L316.80,182.2 L316.78,182.7 L316.77,183.2 L316.74,183.7 L316.70,184.2 L316.63,184.7 L316.55,185.2 L316.44,185.7 L316.32,186.2 L316.20,186.7 L316.08,187.2 L315.96,187.7 L315.84,188.2 L315.71,188.7 L315.59,189.2 L315.47,189.7 L315.35,190.2 L315.23,190.7 L315.11,191.2 L314.99,191.7 L314.87,192.2 L314.75,192.7 L314.63,193.2 L314.51,193.7 L314.39,194.2 L314.27,194.7 L314.14,195.2 L314.02,195.7 L313.90,196.2 L313.78,196.7 L313.66,197.2 L313.54,197.7 L313.45,198.2 L313.41,198.7 L313.44,199.2 L313.53,199.7 L313.68,200.2 L313.87,200.7 L314.06,201.2 L314.24,201.7 L314.43,202.2 L314.63,202.7 L314.83,203.2 L315.04,203.7 L315.26,204.2 L315.48,204.7 L315.70,205.2 L315.92,205.7 L316.15,206.2 L316.37,206.7 L316.59,207.2 L316.80,207.7 L316.99,208.2 L317.18,208.7 L317.35,209.2 L317.50,209.7 L317.66,210.2 L317.82,210.7 L317.97,211.2 L318.11,211.7 L318.24,212.2 L318.35,212.7 L318.46,213.2 L318.55,213.7 L318.65,214.2 L318.74,214.7 L318.83,215.2 L318.93,215.7 L319.02,216.2 L319.10,216.7 L319.15,217.2 L319.17,217.7 L319.18,218.2 L319.15,218.7 L319.13,219.2 L319.10,219.7 L319.07,220.2 L319.04,220.7 L319.02,221.2 L318.99,221.7 L318.96,222.2 L318.93,222.7 L318.91,223.2 L318.88,223.7 L318.85,224.2 L318.82,224.7 L318.80,225.2 L318.77,225.7 L318.74,226.2 L318.72,226.7 L318.70,227.2 L318.68,227.7 L318.66,228.2 L318.64,228.7 L318.62,229.2 L318.60,229.7 L318.58,230.2 L318.56,230.7 L318.54,231.2 L318.52,231.7 L318.50,232.2 L318.48,232.7 L318.46,233.2 L318.44,233.7 L318.42,234.2 L318.40,234.7 L318.38,235.2 L318.36,235.7 L318.34,236.2 L318.32,236.7 L318.30,237.2 L318.28,237.7 L318.26,238.2 L318.25,238.7 L318.24,239.0 L326.22,239.0 L326.21,238.7 L326.20,238.2 L326.18,237.7 L326.16,237.2 L326.14,236.7 L326.12,236.2 L326.10,235.7 L326.08,235.2 L326.06,234.7 L326.04,234.2 L326.02,233.7 L326.00,233.2 L325.98,232.7 L325.96,232.2 L325.94,231.7 L325.92,231.2 L325.90,230.7 L325.88,230.2 L325.86,229.7 L325.84,229.2 L325.82,228.7 L325.80,228.2 L325.78,227.7 L325.76,227.2 L325.74,226.7 L325.72,226.2 L325.69,225.7 L325.66,225.2 L325.64,224.7 L325.61,224.2 L325.58,223.7 L325.55,223.2 L325.53,222.7 L325.50,222.2 L325.47,221.7 L325.44,221.2 L325.42,220.7 L325.39,220.2 L325.36,219.7 L325.33,219.2 L325.31,218.7 L325.28,218.2 L325.29,217.7 L325.31,217.2 L325.36,216.7 L325.44,216.2 L325.53,215.7 L325.63,215.2 L325.72,214.7 L325.81,214.2 L325.91,213.7 L326.00,213.2 L326.11,212.7 L326.22,212.2 L326.35,211.7 L326.49,211.2 L326.64,210.7 L326.80,210.2 L326.96,209.7 L327.11,209.2 L327.28,208.7 L327.47,208.2 L327.66,207.7 L327.87,207.2 L328.09,206.7 L328.31,206.2 L328.54,205.7 L328.76,205.2 L328.98,204.7 L329.20,204.2 L329.42,203.7 L329.63,203.2 L329.83,202.7 L330.03,202.2 L330.22,201.7 L330.41,201.2 L330.59,200.7 L330.78,200.2 L330.93,199.7 L331.02,199.2 L331.05,198.7 L331.01,198.2 L330.92,197.7 L330.80,197.2 L330.68,196.7 L330.56,196.2 L330.44,195.7 L330.32,195.2 L330.19,194.7 L330.07,194.2 L329.95,193.7 L329.83,193.2 L329.71,192.7 L329.59,192.2 L329.47,191.7 L329.35,191.2 L329.23,190.7 L329.11,190.2 L328.99,189.7 L328.87,189.2 L328.75,188.7 L328.62,188.2 L328.50,187.7 L328.38,187.2 L328.26,186.7 L328.14,186.2 L328.02,185.7 L327.91,185.2 L327.83,184.7 L327.76,184.2 L327.72,183.7 L327.69,183.2 L327.68,182.7 L327.66,182.2 L327.65,181.7 L327.63,181.2 L327.62,180.7 L327.60,180.2 L327.59,179.7 L327.58,179.2 L327.56,178.7 L327.55,178.2 L327.53,177.7 L327.52,177.2 L327.50,176.7 L327.49,176.2 L327.47,175.7 L327.46,175.2 L327.45,174.7 L327.44,174.2Z" fill="#bebdc2"/>
<path d="M347.62,70.5 L347.64,71.0 L347.67,71.5 L347.71,72.0 L347.75,72.5 L347.78,73.0 L347.82,73.5 L347.86,74.0 L347.89,74.5 L347.93,75.0 L347.97,75.5 L348.01,76.0 L348.04,76.5 L348.08,77.0 L348.12,77.5 L348.15,78.0 L348.19,78.5 L348.23,79.0 L348.26,79.5 L348.28,80.0 L348.30,80.5 L348.31,81.0 L348.32,81.5 L348.33,82.0 L348.34,82.5 L348.35,83.0 L348.35,83.5 L348.36,84.0 L348.37,84.5 L348.38,85.0 L348.38,85.5 L348.39,86.0 L348.40,86.5 L348.41,87.0 L348.41,87.5 L348.42,88.0 L348.43,88.5 L348.44,89.0 L348.44,89.5 L348.45,90.0 L348.46,90.5 L348.47,91.0 L348.47,91.5 L348.48,92.0 L348.49,92.5 L348.50,93.0 L348.50,93.5 L348.51,94.0 L348.52,94.5 L348.53,95.0 L348.53,95.5 L348.54,96.0 L348.55,96.5 L348.56,97.0 L348.56,97.5 L348.57,98.0 L348.58,98.5 L348.59,99.0 L348.59,99.5 L348.60,100.0 L348.60,100.5 L348.60,101.0 L348.60,101.5 L348.60,102.0 L348.60,102.5 L348.60,103.0 L348.60,103.5 L348.60,104.0 L348.60,104.5 L348.60,105.0 L348.60,105.5 L348.60,106.0 L348.60,106.5 L348.60,107.0 L348.60,107.5 L348.60,108.0 L348.60,108.5 L348.60,109.0 L348.60,109.5 L348.60,110.0 L348.60,110.5 L348.60,111.0 L348.60,111.5 L348.60,112.0 L348.60,112.5 L348.60,113.0 L348.60,113.5 L348.60,114.0 L348.60,114.5 L348.60,115.0 L348.60,115.5 L348.60,116.0 L348.60,116.5 L348.60,117.0 L348.60,117.5 L348.60,118.0 L348.60,118.5 L348.60,119.0 L348.60,119.5 L348.60,120.0 L348.60,120.5 L348.60,121.0 L348.60,121.5 L348.60,122.0 L348.60,122.5 L348.60,123.0 L348.60,123.5 L348.59,124.0 L348.58,124.5 L348.56,125.0 L348.54,125.5 L348.52,126.0 L348.49,126.5 L348.47,127.0 L348.44,127.5 L348.42,128.0 L348.39,128.5 L348.37,129.0 L348.34,129.5 L348.32,130.0 L348.29,130.5 L348.27,131.0 L348.24,131.5 L348.22,132.0 L348.19,132.5 L348.17,133.0 L348.14,133.5 L348.12,134.0 L348.09,134.5 L348.07,135.0 L348.04,135.5 L348.02,136.0 L347.99,136.5 L347.96,137.0 L347.93,137.5 L347.89,138.0 L347.86,138.5 L347.83,139.0 L347.80,139.5 L347.76,140.0 L347.73,140.5 L347.70,141.0 L347.66,141.5 L347.63,142.0 L347.60,142.5 L347.56,143.0 L347.53,143.5 L347.50,144.0 L347.46,144.5 L347.43,145.0 L347.40,145.5 L347.37,146.0 L347.33,146.5 L347.30,147.0 L347.27,147.5 L347.23,148.0 L347.19,148.5 L347.15,149.0 L347.11,149.5 L347.06,150.0 L347.02,150.5 L346.97,151.0 L346.93,151.5 L346.88,152.0 L346.84,152.5 L346.79,153.0 L346.75,153.5 L346.70,154.0 L346.66,154.5 L346.61,155.0 L346.57,155.5 L346.52,156.0 L346.48,156.5 L346.43,157.0 L346.39,157.5 L346.34,158.0 L346.30,158.5 L346.25,159.0 L346.21,159.5 L346.16,160.0 L346.11,160.5 L346.06,161.0 L346.00,161.5 L345.94,162.0 L345.88,162.5 L345.81,163.0 L345.75,163.5 L345.69,164.0 L345.63,164.5 L345.57,165.0 L345.50,165.5 L345.44,166.0 L345.38,166.5 L345.32,167.0 L345.26,167.5 L345.20,168.0 L345.13,168.5 L345.07,169.0 L345.01,169.5 L344.95,170.0 L344.89,170.5 L344.82,171.0 L344.76,171.5 L344.70,172.0 L344.63,172.5 L344.57,173.0 L344.50,173.5 L344.43,174.0 L344.36,174.5 L344.29,175.0 L344.22,175.5 L344.15,176.0 L344.08,176.5 L344.01,177.0 L343.95,177.5 L343.88,178.0 L343.81,178.5 L343.74,179.0 L343.67,179.5 L343.60,180.0 L343.53,180.5 L343.46,181.0 L343.39,181.5 L343.32,182.0 L343.25,182.5 L343.18,183.0 L343.11,183.5 L343.04,184.0 L342.97,184.5 L342.91,185.0 L342.85,185.5 L342.80,186.0 L342.75,186.5 L342.70,187.0 L342.65,187.5 L342.60,188.0 L342.55,188.5 L342.50,189.0 L342.45,189.5 L342.40,190.0 L342.35,190.5 L342.30,191.0 L342.25,191.5 L342.20,192.0 L342.15,192.5 L342.10,193.0 L342.05,193.5 L342.00,194.0 L341.95,194.5 L341.90,195.0 L341.85,195.5 L341.80,196.0 L341.76,196.5 L341.72,197.0 L341.68,197.5 L341.65,198.0 L341.63,198.5 L341.61,199.0 L341.58,199.5 L341.56,200.0 L341.54,200.5 L341.52,201.0 L341.49,201.5 L341.47,202.0 L341.45,202.5 L341.42,203.0 L341.40,203.5 L341.38,204.0 L341.35,204.5 L341.33,205.0 L341.31,205.5 L341.28,206.0 L341.26,206.5 L341.24,207.0 L341.22,207.5 L341.19,208.0 L341.17,208.5 L341.15,209.0 L341.13,209.5 L341.11,210.0 L341.10,210.5 L341.10,211.0 L341.10,211.5 L341.10,212.0 L341.10,212.5 L341.10,213.0 L341.10,213.5 L341.10,214.0 L341.10,214.5 L341.10,215.0 L341.10,215.5 L341.10,216.0 L341.10,216.5 L341.10,217.0 L341.10,217.5 L341.10,218.0 L341.10,218.5 L341.10,219.0 L341.10,219.5 L341.10,220.0 L341.10,220.5 L341.10,221.0 L341.10,221.5 L341.10,222.0 L341.10,222.5 L341.10,223.0 L341.10,223.5 L341.10,224.0 L341.10,224.5 L341.10,225.0 L341.10,225.5 L341.10,226.0 L341.10,226.5 L341.10,227.0 L341.10,227.5 L341.10,228.0 L341.10,228.5 L341.10,229.0 L341.10,229.5 L341.10,230.0 L341.10,230.5 L341.10,231.0 L341.10,231.5 L341.10,232.0 L341.10,232.5 L341.10,233.0 L341.10,233.5 L341.10,234.0 L341.10,234.5 L341.10,235.0 L341.10,235.5 L341.10,236.0 L341.10,236.5 L341.10,237.0 L341.10,237.5 L341.10,237.6 L358.10,237.6 L358.10,237.5 L358.10,237.0 L358.10,236.5 L358.10,236.0 L358.10,235.5 L358.10,235.0 L358.10,234.5 L358.10,234.0 L358.10,233.5 L358.10,233.0 L358.10,232.5 L358.10,232.0 L358.10,231.5 L358.10,231.0 L358.10,230.5 L358.10,230.0 L358.10,229.5 L358.10,229.0 L358.10,228.5 L358.10,228.0 L358.10,227.5 L358.10,227.0 L358.10,226.5 L358.10,226.0 L358.10,225.5 L358.10,225.0 L358.10,224.5 L358.10,224.0 L358.10,223.5 L358.10,223.0 L358.10,222.5 L358.10,222.0 L358.10,221.5 L358.10,221.0 L358.10,220.5 L358.10,220.0 L358.10,219.5 L358.10,219.0 L358.10,218.5 L358.10,218.0 L358.10,217.5 L358.10,217.0 L358.10,216.5 L358.10,216.0 L358.10,215.5 L358.10,215.0 L358.10,214.5 L358.10,214.0 L358.10,213.5 L358.10,213.0 L358.10,212.5 L358.10,212.0 L358.10,211.5 L358.10,211.0 L358.10,210.5 L358.09,210.0 L358.07,209.5 L358.05,209.0 L358.03,208.5 L358.01,208.0 L357.98,207.5 L357.96,207.0 L357.94,206.5 L357.92,206.0 L357.89,205.5 L357.87,205.0 L357.85,204.5 L357.82,204.0 L357.80,203.5 L357.78,203.0 L357.75,202.5 L357.73,202.0 L357.71,201.5 L357.68,201.0 L357.66,200.5 L357.64,200.0 L357.62,199.5 L357.59,199.0 L357.57,198.5 L357.55,198.0 L357.52,197.5 L357.48,197.0 L357.44,196.5 L357.40,196.0 L357.35,195.5 L357.30,195.0 L357.25,194.5 L357.20,194.0 L357.15,193.5 L357.10,193.0 L357.05,192.5 L357.00,192.0 L356.95,191.5 L356.90,191.0 L356.85,190.5 L356.80,190.0 L356.75,189.5 L356.70,189.0 L356.65,188.5 L356.60,188.0 L356.55,187.5 L356.50,187.0 L356.45,186.5 L356.40,186.0 L356.35,185.5 L356.29,185.0 L356.23,184.5 L356.16,184.0 L356.09,183.5 L356.02,183.0 L355.95,182.5 L355.88,182.0 L355.81,181.5 L355.74,181.0 L355.67,180.5 L355.60,180.0 L355.53,179.5 L355.46,179.0 L355.39,178.5 L355.32,178.0 L355.25,177.5 L355.19,177.0 L355.12,176.5 L355.05,176.0 L354.98,175.5 L354.91,175.0 L354.84,174.5 L354.77,174.0 L354.70,173.5 L354.63,173.0 L354.57,172.5 L354.50,172.0 L354.44,171.5 L354.38,171.0 L354.31,170.5 L354.25,170.0 L354.19,169.5 L354.13,169.0 L354.07,168.5 L354.00,168.0 L353.94,167.5 L353.88,167.0 L353.82,166.5 L353.76,166.0 L353.70,165.5 L353.63,165.0 L353.57,164.5 L353.51,164.0 L353.45,163.5 L353.39,163.0 L353.32,162.5 L353.26,162.0 L353.20,161.5 L353.14,161.0 L353.09,160.5 L353.04,160.0 L352.99,159.5 L352.95,159.0 L352.90,158.5 L352.86,158.0 L352.81,157.5 L352.77,157.0 L352.72,156.5 L352.68,156.0 L352.63,155.5 L352.59,155.0 L352.54,154.5 L352.50,154.0 L352.45,153.5 L352.41,153.0 L352.36,152.5 L352.32,152.0 L352.27,151.5 L352.23,151.0 L352.18,150.5 L352.14,150.0 L352.09,149.5 L352.05,149.0 L352.01,148.5 L351.97,148.0 L351.93,147.5 L351.90,147.0 L351.87,146.5 L351.83,146.0 L351.80,145.5 L351.77,145.0 L351.74,144.5 L351.70,144.0 L351.67,143.5 L351.64,143.0 L351.60,142.5 L351.57,142.0 L351.54,141.5 L351.50,141.0 L351.47,140.5 L351.44,140.0 L351.40,139.5 L351.37,139.0 L351.34,138.5 L351.31,138.0 L351.27,137.5 L351.24,137.0 L351.21,136.5 L351.18,136.0 L351.16,135.5 L351.13,135.0 L351.11,134.5 L351.08,134.0 L351.06,133.5 L351.03,133.0 L351.01,132.5 L350.98,132.0 L350.96,131.5 L350.93,131.0 L350.91,130.5 L350.88,130.0 L350.86,129.5 L350.83,129.0 L350.81,128.5 L350.78,128.0 L350.76,127.5 L350.73,127.0 L350.71,126.5 L350.68,126.0 L350.66,125.5 L350.64,125.0 L350.62,124.5 L350.61,124.0 L350.60,123.5 L350.60,123.0 L350.60,122.5 L350.60,122.0 L350.60,121.5 L350.60,121.0 L350.60,120.5 L350.60,120.0 L350.60,119.5 L350.60,119.0 L350.60,118.5 L350.60,118.0 L350.60,117.5 L350.60,117.0 L350.60,116.5 L350.60,116.0 L350.60,115.5 L350.60,115.0 L350.60,114.5 L350.60,114.0 L350.60,113.5 L350.60,113.0 L350.60,112.5 L350.60,112.0 L350.60,111.5 L350.60,111.0 L350.60,110.5 L350.60,110.0 L350.60,109.5 L350.60,109.0 L350.60,108.5 L350.60,108.0 L350.60,107.5 L350.60,107.0 L350.60,106.5 L350.60,106.0 L350.60,105.5 L350.60,105.0 L350.60,104.5 L350.60,104.0 L350.60,103.5 L350.60,103.0 L350.60,102.5 L350.60,102.0 L350.60,101.5 L350.60,101.0 L350.60,100.5 L350.60,100.0 L350.61,99.5 L350.62,99.0 L350.62,98.5 L350.63,98.0 L350.64,97.5 L350.65,97.0 L350.65,96.5 L350.66,96.0 L350.67,95.5 L350.68,95.0 L350.68,94.5 L350.69,94.0 L350.70,93.5 L350.71,93.0 L350.71,92.5 L350.72,92.0 L350.73,91.5 L350.74,91.0 L350.74,90.5 L350.75,90.0 L350.76,89.5 L350.77,89.0 L350.77,88.5 L350.78,88.0 L350.79,87.5 L350.80,87.0 L350.80,86.5 L350.81,86.0 L350.82,85.5 L350.83,85.0 L350.83,84.5 L350.84,84.0 L350.85,83.5 L350.86,83.0 L350.86,82.5 L350.87,82.0 L350.88,81.5 L350.89,81.0 L350.90,80.5 L350.92,80.0 L350.94,79.5 L350.97,79.0 L351.01,78.5 L351.05,78.0 L351.08,77.5 L351.12,77.0 L351.16,76.5 L351.19,76.0 L351.23,75.5 L351.27,75.0 L351.31,74.5 L351.34,74.0 L351.38,73.5 L351.42,73.0 L351.45,72.5 L351.49,72.0 L351.53,71.5 L351.56,71.0 L351.58,70.5Z" fill="#bebdc2"/>
<path d="M369.06,122.6 L369.04,123.1 L369.03,123.6 L369.01,124.1 L368.99,124.6 L368.96,125.1 L368.94,125.6 L368.92,126.1 L368.90,126.6 L368.88,127.1 L368.86,127.6 L368.84,128.1 L368.82,128.6 L368.80,129.1 L368.77,129.6 L368.75,130.1 L368.73,130.6 L368.71,131.1 L368.69,131.6 L368.67,132.1 L368.65,132.6 L368.63,133.1 L368.61,133.6 L368.58,134.1 L368.56,134.6 L368.54,135.1 L368.52,135.6 L368.50,136.1 L368.50,136.6 L368.50,137.1 L368.51,137.6 L368.52,138.1 L368.54,138.6 L368.56,139.1 L368.59,139.6 L368.61,140.1 L368.63,140.6 L368.65,141.1 L368.67,141.6 L368.69,142.1 L368.71,142.6 L368.73,143.1 L368.75,143.6 L368.77,144.1 L368.79,144.6 L368.81,145.1 L368.83,145.6 L368.85,146.1 L368.87,146.6 L368.89,147.1 L368.91,147.6 L368.93,148.1 L368.95,148.6 L368.98,149.1 L369.00,149.6 L369.02,150.1 L369.04,150.6 L369.07,151.1 L369.11,151.6 L369.16,152.1 L369.21,152.6 L369.27,153.1 L369.33,153.6 L369.39,154.1 L369.44,154.6 L369.50,155.1 L369.56,155.6 L369.62,156.1 L369.68,156.6 L369.74,157.1 L369.80,157.6 L369.85,158.1 L369.91,158.6 L369.97,159.1 L370.03,159.6 L370.09,160.1 L370.15,160.6 L370.21,161.1 L370.26,161.6 L370.32,162.1 L370.38,162.6 L370.44,163.1 L370.50,163.6 L370.56,164.1 L370.62,164.6 L370.67,165.1 L370.73,165.6 L370.79,166.1 L370.85,166.6 L370.91,167.1 L370.97,167.6 L371.03,168.1 L371.08,168.6 L371.14,169.1 L371.20,169.6 L371.26,170.1 L371.32,170.6 L371.38,171.1 L371.44,171.6 L371.49,172.1 L371.55,172.6 L371.59,173.1 L371.62,173.6 L371.63,174.1 L371.62,174.6 L371.59,175.1 L371.56,175.6 L371.53,176.1 L371.51,176.6 L371.48,177.1 L371.45,177.6 L371.42,178.1 L371.40,178.6 L371.37,179.1 L371.34,179.6 L371.31,180.1 L371.29,180.6 L371.26,181.1 L371.23,181.6 L371.20,182.1 L371.18,182.6 L371.15,183.1 L371.12,183.6 L371.09,184.1 L371.07,184.6 L371.04,185.1 L371.01,185.6 L370.99,186.1 L370.96,186.6 L370.93,187.1 L370.90,187.6 L370.88,188.1 L370.85,188.6 L370.82,189.1 L370.79,189.6 L370.77,190.1 L370.74,190.6 L370.71,191.1 L370.68,191.6 L370.66,192.1 L370.63,192.6 L370.60,193.1 L370.57,193.6 L370.55,194.1 L370.52,194.6 L370.50,195.1 L370.48,195.6 L370.47,196.1 L370.47,196.6 L370.47,197.1 L370.47,197.6 L370.47,198.1 L370.47,198.6 L370.47,199.1 L370.47,199.6 L370.47,200.1 L370.47,200.6 L370.47,201.1 L370.47,201.6 L370.47,202.1 L370.47,202.6 L370.47,202.7 L383.47,202.7 L383.47,202.6 L383.47,202.1 L383.47,201.6 L383.47,201.1 L383.47,200.6 L383.47,200.1 L383.47,199.6 L383.47,199.1 L383.47,198.6 L383.47,198.1 L383.47,197.6 L383.47,197.1 L383.47,196.6 L383.47,196.1 L383.46,195.6 L383.44,195.1 L383.42,194.6 L383.39,194.1 L383.37,193.6 L383.34,193.1 L383.31,192.6 L383.28,192.1 L383.26,191.6 L383.23,191.1 L383.20,190.6 L383.17,190.1 L383.15,189.6 L383.12,189.1 L383.09,188.6 L383.06,188.1 L383.04,187.6 L383.01,187.1 L382.98,186.6 L382.95,186.1 L382.93,185.6 L382.90,185.1 L382.87,184.6 L382.85,184.1 L382.82,183.6 L382.79,183.1 L382.76,182.6 L382.74,182.1 L382.71,181.6 L382.68,181.1 L382.65,180.6 L382.63,180.1 L382.60,179.6 L382.57,179.1 L382.54,178.6 L382.52,178.1 L382.49,177.6 L382.46,177.1 L382.43,176.6 L382.41,176.1 L382.38,175.6 L382.35,175.1 L382.32,174.6 L382.31,174.1 L382.32,173.6 L382.35,173.1 L382.39,172.6 L382.45,172.1 L382.50,171.6 L382.56,171.1 L382.62,170.6 L382.68,170.1 L382.74,169.6 L382.80,169.1 L382.86,168.6 L382.91,168.1 L382.97,167.6 L383.03,167.1 L383.09,166.6 L383.15,166.1 L383.21,165.6 L383.27,165.1 L383.32,164.6 L383.38,164.1 L383.44,163.6 L383.50,163.1 L383.56,162.6 L383.62,162.1 L383.68,161.6 L383.73,161.1 L383.79,160.6 L383.85,160.1 L383.91,159.6 L383.97,159.1 L384.03,158.6 L384.09,158.1 L384.14,157.6 L384.20,157.1 L384.26,156.6 L384.32,156.1 L384.38,155.6 L384.44,155.1 L384.50,154.6 L384.55,154.1 L384.61,153.6 L384.67,153.1 L384.73,152.6 L384.78,152.1 L384.83,151.6 L384.87,151.1 L384.90,150.6 L384.92,150.1 L384.94,149.6 L384.96,149.1 L384.99,148.6 L385.01,148.1 L385.03,147.6 L385.05,147.1 L385.07,146.6 L385.09,146.1 L385.11,145.6 L385.13,145.1 L385.15,144.6 L385.17,144.1 L385.19,143.6 L385.21,143.1 L385.23,142.6 L385.25,142.1 L385.27,141.6 L385.29,141.1 L385.31,140.6 L385.33,140.1 L385.35,139.6 L385.38,139.1 L385.40,138.6 L385.42,138.1 L385.43,137.6 L385.44,137.1 L385.44,136.6 L385.44,136.1 L385.42,135.6 L385.40,135.1 L385.38,134.6 L385.36,134.1 L385.33,133.6 L385.31,133.1 L385.29,132.6 L385.27,132.1 L385.25,131.6 L385.23,131.1 L385.21,130.6 L385.19,130.1 L385.17,129.6 L385.14,129.1 L385.12,128.6 L385.10,128.1 L385.08,127.6 L385.06,127.1 L385.04,126.6 L385.02,126.1 L385.00,125.6 L384.98,125.1 L384.95,124.6 L384.93,124.1 L384.91,123.6 L384.90,123.1 L384.88,122.6Z" fill="#bebdc2"/>
<path d="M395.55,149.6 L395.57,150.1 L395.58,150.6 L395.60,151.1 L395.63,151.6 L395.65,152.1 L395.67,152.6 L395.69,153.1 L395.71,153.6 L395.73,154.1 L395.75,154.6 L395.78,155.1 L395.80,155.6 L395.82,156.1 L395.84,156.6 L395.86,157.1 L395.88,157.6 L395.90,158.1 L395.93,158.6 L395.95,159.1 L395.97,159.6 L395.99,160.1 L396.01,160.6 L396.03,161.1 L396.05,161.6 L396.08,162.1 L396.10,162.6 L396.11,163.1 L396.11,163.6 L396.11,164.1 L396.09,164.6 L396.07,165.1 L396.05,165.6 L396.02,166.1 L396.00,166.6 L395.98,167.1 L395.95,167.6 L395.93,168.1 L395.91,168.6 L395.88,169.1 L395.86,169.6 L395.84,170.1 L395.81,170.6 L395.79,171.1 L395.77,171.6 L395.74,172.1 L395.72,172.6 L395.69,173.1 L395.67,173.6 L395.65,174.1 L395.62,174.6 L395.60,175.1 L395.58,175.6 L395.57,176.1 L395.57,176.6 L395.58,177.1 L395.60,177.6 L395.62,178.1 L395.64,178.6 L395.67,179.1 L395.69,179.6 L395.72,180.1 L395.74,180.6 L395.76,181.1 L395.79,181.6 L395.81,182.1 L395.84,182.6 L395.86,183.1 L395.88,183.6 L395.91,184.1 L395.93,184.6 L395.95,185.1 L395.98,185.6 L396.00,186.1 L396.03,186.6 L396.05,187.1 L396.07,187.6 L396.10,188.1 L396.11,188.6 L396.11,189.1 L396.10,189.6 L396.09,190.1 L396.06,190.6 L396.04,191.1 L396.02,191.6 L395.99,192.1 L395.97,192.6 L395.94,193.1 L395.92,193.6 L395.90,194.1 L395.87,194.6 L395.85,195.1 L395.82,195.6 L395.80,196.1 L395.78,196.6 L395.75,197.1 L395.73,197.6 L395.70,198.1 L395.68,198.6 L395.66,199.1 L395.63,199.6 L395.61,200.1 L395.58,200.6 L395.57,201.1 L395.55,201.5 L413.13,201.5 L413.11,201.1 L413.10,200.6 L413.07,200.1 L413.05,199.6 L413.02,199.1 L413.00,198.6 L412.98,198.1 L412.95,197.6 L412.93,197.1 L412.90,196.6 L412.88,196.1 L412.86,195.6 L412.83,195.1 L412.81,194.6 L412.78,194.1 L412.76,193.6 L412.74,193.1 L412.71,192.6 L412.69,192.1 L412.66,191.6 L412.64,191.1 L412.62,190.6 L412.59,190.1 L412.58,189.6 L412.57,189.1 L412.57,188.6 L412.58,188.1 L412.61,187.6 L412.63,187.1 L412.65,186.6 L412.68,186.1 L412.70,185.6 L412.73,185.1 L412.75,184.6 L412.77,184.1 L412.80,183.6 L412.82,183.1 L412.84,182.6 L412.87,182.1 L412.89,181.6 L412.92,181.1 L412.94,180.6 L412.96,180.1 L412.99,179.6 L413.01,179.1 L413.04,178.6 L413.06,178.1 L413.08,177.6 L413.10,177.1 L413.11,176.6 L413.11,176.1 L413.10,175.6 L413.08,175.1 L413.06,174.6 L413.03,174.1 L413.01,173.6 L412.99,173.1 L412.96,172.6 L412.94,172.1 L412.92,171.6 L412.89,171.1 L412.87,170.6 L412.84,170.1 L412.82,169.6 L412.80,169.1 L412.77,168.6 L412.75,168.1 L412.73,167.6 L412.70,167.1 L412.68,166.6 L412.66,166.1 L412.63,165.6 L412.61,165.1 L412.59,164.6 L412.57,164.1 L412.57,163.6 L412.57,163.1 L412.58,162.6 L412.60,162.1 L412.63,161.6 L412.65,161.1 L412.67,160.6 L412.69,160.1 L412.71,159.6 L412.73,159.1 L412.75,158.6 L412.78,158.1 L412.80,157.6 L412.82,157.1 L412.84,156.6 L412.86,156.1 L412.88,155.6 L412.90,155.1 L412.93,154.6 L412.95,154.1 L412.97,153.6 L412.99,153.1 L413.01,152.6 L413.03,152.1 L413.05,151.6 L413.08,151.1 L413.10,150.6 L413.11,150.1 L413.13,149.6Z" fill="#bebdc2"/>
<path d="M426.78,137.8 L426.84,138.3 L426.93,138.8 L427.04,139.3 L427.15,139.8 L427.26,140.3 L427.37,140.8 L427.48,141.3 L427.59,141.8 L427.70,142.3 L427.81,142.8 L427.92,143.3 L428.03,143.8 L428.14,144.3 L428.25,144.8 L428.35,145.3 L428.45,145.8 L428.54,146.3 L428.61,146.8 L428.69,147.3 L428.75,147.8 L428.82,148.3 L428.89,148.8 L428.95,149.3 L429.02,149.8 L429.09,150.3 L429.16,150.8 L429.22,151.3 L429.29,151.8 L429.36,152.3 L429.43,152.8 L429.49,153.3 L429.56,153.8 L429.63,154.3 L429.69,154.8 L429.76,155.3 L429.81,155.8 L429.85,156.3 L429.87,156.8 L429.86,157.3 L429.84,157.8 L429.82,158.3 L429.80,158.8 L429.78,159.3 L429.75,159.8 L429.73,160.3 L429.71,160.8 L429.68,161.3 L429.66,161.8 L429.64,162.3 L429.61,162.8 L429.59,163.3 L429.57,163.8 L429.54,164.3 L429.51,164.8 L429.47,165.3 L429.42,165.8 L429.37,166.3 L429.32,166.8 L429.27,167.3 L429.22,167.8 L429.16,168.3 L429.11,168.8 L429.06,169.3 L429.00,169.8 L428.95,170.3 L428.90,170.8 L428.85,171.3 L428.79,171.8 L428.74,172.3 L428.69,172.8 L428.64,173.3 L428.57,173.8 L428.48,174.3 L428.36,174.8 L428.22,175.3 L428.05,175.8 L427.88,176.3 L427.70,176.8 L427.53,177.3 L427.35,177.8 L427.17,178.3 L427.00,178.8 L426.82,179.3 L426.65,179.8 L426.47,180.3 L426.30,180.8 L426.12,181.3 L425.94,181.8 L425.77,182.3 L425.59,182.8 L425.42,183.3 L425.24,183.8 L425.06,184.3 L424.89,184.8 L424.71,185.3 L424.54,185.8 L424.36,186.3 L424.20,186.8 L424.07,187.3 L423.95,187.8 L423.85,188.3 L423.76,188.8 L423.68,189.3 L423.60,189.8 L423.52,190.3 L423.44,190.8 L423.35,191.3 L423.27,191.8 L423.19,192.3 L423.11,192.8 L423.03,193.3 L422.98,193.8 L422.94,194.3 L422.92,194.8 L422.91,195.3 L422.91,195.8 L422.91,196.3 L422.91,196.8 L422.91,197.3 L422.91,197.8 L422.91,198.3 L422.91,198.8 L422.91,199.3 L422.91,199.8 L422.91,200.3 L422.91,200.8 L422.91,201.3 L422.91,201.8 L422.91,202.3 L422.91,202.7 L440.51,202.7 L440.51,202.3 L440.51,201.8 L440.51,201.3 L440.51,200.8 L440.51,200.3 L440.51,199.8 L440.51,199.3 L440.51,198.8 L440.51,198.3 L440.51,197.8 L440.51,197.3 L440.51,196.8 L440.51,196.3 L440.51,195.8 L440.51,195.3 L440.50,194.8 L440.48,194.3 L440.44,193.8 L440.39,193.3 L440.31,192.8 L440.23,192.3 L440.15,191.8 L440.07,191.3 L439.98,190.8 L439.90,190.3 L439.82,189.8 L439.74,189.3 L439.66,188.8 L439.57,188.3 L439.47,187.8 L439.35,187.3 L439.22,186.8 L439.06,186.3 L438.88,185.8 L438.71,185.3 L438.53,184.8 L438.36,184.3 L438.18,183.8 L438.00,183.3 L437.83,182.8 L437.65,182.3 L437.48,181.8 L437.30,181.3 L437.12,180.8 L436.95,180.3 L436.77,179.8 L436.60,179.3 L436.42,178.8 L436.25,178.3 L436.07,177.8 L435.89,177.3 L435.72,176.8 L435.54,176.3 L435.37,175.8 L435.20,175.3 L435.06,174.8 L434.94,174.3 L434.85,173.8 L434.78,173.3 L434.73,172.8 L434.68,172.3 L434.63,171.8 L434.57,171.3 L434.52,170.8 L434.47,170.3 L434.42,169.8 L434.36,169.3 L434.31,168.8 L434.26,168.3 L434.20,167.8 L434.15,167.3 L434.10,166.8 L434.05,166.3 L434.00,165.8 L433.95,165.3 L433.91,164.8 L433.88,164.3 L433.85,163.8 L433.83,163.3 L433.81,162.8 L433.78,162.3 L433.76,161.8 L433.74,161.3 L433.71,160.8 L433.69,160.3 L433.67,159.8 L433.64,159.3 L433.62,158.8 L433.60,158.3 L433.58,157.8 L433.56,157.3 L433.55,156.8 L433.57,156.3 L433.61,155.8 L433.66,155.3 L433.73,154.8 L433.79,154.3 L433.86,153.8 L433.93,153.3 L433.99,152.8 L434.06,152.3 L434.13,151.8 L434.20,151.3 L434.26,150.8 L434.33,150.3 L434.40,149.8 L434.47,149.3 L434.53,148.8 L434.60,148.3 L434.67,147.8 L434.74,147.3 L434.81,146.8 L434.88,146.3 L434.97,145.8 L435.07,145.3 L435.17,144.8 L435.28,144.3 L435.39,143.8 L435.50,143.3 L435.61,142.8 L435.72,142.3 L435.83,141.8 L435.94,141.3 L436.05,140.8 L436.16,140.3 L436.27,139.8 L436.38,139.3 L436.49,138.8 L436.58,138.3 L436.64,137.8Z" fill="#bebdc2"/>
<path d="M455.87,70.5 L455.86,71.0 L455.85,71.5 L455.84,72.0 L455.82,72.5 L455.81,73.0 L455.79,73.5 L455.78,74.0 L455.76,74.5 L455.75,75.0 L455.73,75.5 L455.72,76.0 L455.71,76.5 L455.69,77.0 L455.68,77.5 L455.66,78.0 L455.65,78.5 L455.63,79.0 L455.62,79.5 L455.60,80.0 L455.59,80.5 L455.57,81.0 L455.56,81.5 L455.55,82.0 L455.53,82.5 L455.52,83.0 L455.50,83.5 L455.49,84.0 L455.47,84.5 L455.46,85.0 L455.44,85.5 L455.43,86.0 L455.42,86.5 L455.40,87.0 L455.39,87.5 L455.37,88.0 L455.36,88.5 L455.34,89.0 L455.33,89.5 L455.31,90.0 L455.30,90.5 L455.28,91.0 L455.27,91.5 L455.26,92.0 L455.24,92.5 L455.23,93.0 L455.21,93.5 L455.20,94.0 L455.18,94.5 L455.17,95.0 L455.15,95.5 L455.14,96.0 L455.12,96.5 L455.11,97.0 L455.10,97.5 L455.08,98.0 L455.07,98.5 L455.05,99.0 L455.04,99.5 L455.02,100.0 L455.01,100.5 L454.99,101.0 L454.98,101.5 L454.96,102.0 L454.95,102.5 L454.94,103.0 L454.92,103.5 L454.91,104.0 L454.89,104.5 L454.88,105.0 L454.86,105.5 L454.85,106.0 L454.83,106.5 L454.82,107.0 L454.81,107.5 L454.79,108.0 L454.78,108.5 L454.76,109.0 L454.75,109.5 L454.73,110.0 L454.72,110.5 L454.70,111.0 L454.69,111.5 L454.67,112.0 L454.66,112.5 L454.65,113.0 L454.63,113.5 L454.62,114.0 L454.60,114.5 L454.59,115.0 L454.57,115.5 L454.56,116.0 L454.54,116.5 L454.53,117.0 L454.51,117.5 L454.50,118.0 L454.49,118.5 L454.47,119.0 L454.46,119.5 L454.44,120.0 L454.43,120.5 L454.41,121.0 L454.40,121.5 L454.38,122.0 L454.37,122.5 L454.35,123.0 L454.34,123.5 L454.33,124.0 L454.31,124.5 L454.30,125.0 L454.28,125.5 L454.27,126.0 L454.25,126.5 L454.24,127.0 L454.22,127.5 L454.21,128.0 L454.20,128.5 L454.18,129.0 L454.17,129.5 L454.15,130.0 L454.14,130.5 L454.12,131.0 L454.11,131.5 L454.09,132.0 L454.08,132.5 L454.06,133.0 L454.05,133.5 L454.04,134.0 L454.02,134.5 L454.01,135.0 L453.99,135.5 L453.98,136.0 L453.96,136.5 L453.95,137.0 L453.93,137.5 L453.92,138.0 L453.90,138.5 L453.89,139.0 L453.88,139.5 L453.86,140.0 L453.85,140.5 L453.83,141.0 L453.82,141.5 L453.80,142.0 L453.79,142.5 L453.77,143.0 L453.76,143.5 L453.74,144.0 L453.73,144.5 L453.72,145.0 L453.70,145.5 L453.69,146.0 L453.67,146.5 L453.66,147.0 L453.64,147.5 L453.63,148.0 L453.61,148.5 L453.60,149.0 L453.59,149.5 L453.57,150.0 L453.56,150.5 L453.54,151.0 L453.53,151.5 L453.51,152.0 L453.50,152.5 L453.48,153.0 L453.47,153.5 L453.45,154.0 L453.44,154.5 L453.43,155.0 L453.41,155.5 L453.40,156.0 L453.38,156.5 L453.37,157.0 L453.35,157.5 L453.34,158.0 L453.32,158.5 L453.31,159.0 L453.30,159.5 L453.29,160.0 L453.28,160.5 L453.28,161.0 L453.28,161.5 L453.28,162.0 L453.28,162.5 L453.28,163.0 L453.28,163.5 L453.28,164.0 L453.28,164.5 L453.28,165.0 L453.28,165.5 L453.28,166.0 L453.28,166.5 L453.28,167.0 L453.28,167.5 L453.28,168.0 L453.28,168.5 L453.28,169.0 L453.28,169.5 L453.28,170.0 L453.28,170.5 L453.28,171.0 L453.28,171.5 L453.28,172.0 L453.28,172.5 L453.28,173.0 L453.28,173.5 L453.28,174.0 L453.28,174.5 L453.28,175.0 L453.28,175.5 L453.28,175.8 L464.88,175.8 L464.88,175.5 L464.88,175.0 L464.88,174.5 L464.88,174.0 L464.88,173.5 L464.88,173.0 L464.88,172.5 L464.88,172.0 L464.88,171.5 L464.88,171.0 L464.88,170.5 L464.88,170.0 L464.88,169.5 L464.88,169.0 L464.88,168.5 L464.88,168.0 L464.88,167.5 L464.88,167.0 L464.88,166.5 L464.88,166.0 L464.88,165.5 L464.88,165.0 L464.88,164.5 L464.88,164.0 L464.88,163.5 L464.88,163.0 L464.88,162.5 L464.88,162.0 L464.88,161.5 L464.88,161.0 L464.88,160.5 L464.87,160.0 L464.86,159.5 L464.85,159.0 L464.84,158.5 L464.82,158.0 L464.81,157.5 L464.79,157.0 L464.78,156.5 L464.76,156.0 L464.75,155.5 L464.73,155.0 L464.72,154.5 L464.71,154.0 L464.69,153.5 L464.68,153.0 L464.66,152.5 L464.65,152.0 L464.63,151.5 L464.62,151.0 L464.60,150.5 L464.59,150.0 L464.57,149.5 L464.56,149.0 L464.55,148.5 L464.53,148.0 L464.52,147.5 L464.50,147.0 L464.49,146.5 L464.47,146.0 L464.46,145.5 L464.44,145.0 L464.43,144.5 L464.42,144.0 L464.40,143.5 L464.39,143.0 L464.37,142.5 L464.36,142.0 L464.34,141.5 L464.33,141.0 L464.31,140.5 L464.30,140.0 L464.28,139.5 L464.27,139.0 L464.26,138.5 L464.24,138.0 L464.23,137.5 L464.21,137.0 L464.20,136.5 L464.18,136.0 L464.17,135.5 L464.15,135.0 L464.14,134.5 L464.12,134.0 L464.11,133.5 L464.10,133.0 L464.08,132.5 L464.07,132.0 L464.05,131.5 L464.04,131.0 L464.02,130.5 L464.01,130.0 L463.99,129.5 L463.98,129.0 L463.96,128.5 L463.95,128.0 L463.94,127.5 L463.92,127.0 L463.91,126.5 L463.89,126.0 L463.88,125.5 L463.86,125.0 L463.85,124.5 L463.83,124.0 L463.82,123.5 L463.81,123.0 L463.79,122.5 L463.78,122.0 L463.76,121.5 L463.75,121.0 L463.73,120.5 L463.72,120.0 L463.70,119.5 L463.69,119.0 L463.67,118.5 L463.66,118.0 L463.65,117.5 L463.63,117.0 L463.62,116.5 L463.60,116.0 L463.59,115.5 L463.57,115.0 L463.56,114.5 L463.54,114.0 L463.53,113.5 L463.51,113.0 L463.50,112.5 L463.49,112.0 L463.47,111.5 L463.46,111.0 L463.44,110.5 L463.43,110.0 L463.41,109.5 L463.40,109.0 L463.38,108.5 L463.37,108.0 L463.35,107.5 L463.34,107.0 L463.33,106.5 L463.31,106.0 L463.30,105.5 L463.28,105.0 L463.27,104.5 L463.25,104.0 L463.24,103.5 L463.22,103.0 L463.21,102.5 L463.20,102.0 L463.18,101.5 L463.17,101.0 L463.15,100.5 L463.14,100.0 L463.12,99.5 L463.11,99.0 L463.09,98.5 L463.08,98.0 L463.06,97.5 L463.05,97.0 L463.04,96.5 L463.02,96.0 L463.01,95.5 L462.99,95.0 L462.98,94.5 L462.96,94.0 L462.95,93.5 L462.93,93.0 L462.92,92.5 L462.90,92.0 L462.89,91.5 L462.88,91.0 L462.86,90.5 L462.85,90.0 L462.83,89.5 L462.82,89.0 L462.80,88.5 L462.79,88.0 L462.77,87.5 L462.76,87.0 L462.74,86.5 L462.73,86.0 L462.72,85.5 L462.70,85.0 L462.69,84.5 L462.67,84.0 L462.66,83.5 L462.64,83.0 L462.63,82.5 L462.61,82.0 L462.60,81.5 L462.59,81.0 L462.57,80.5 L462.56,80.0 L462.54,79.5 L462.53,79.0 L462.51,78.5 L462.50,78.0 L462.48,77.5 L462.47,77.0 L462.45,76.5 L462.44,76.0 L462.43,75.5 L462.41,75.0 L462.40,74.5 L462.38,74.0 L462.37,73.5 L462.35,73.0 L462.34,72.5 L462.32,72.0 L462.31,71.5 L462.30,71.0 L462.29,70.5Z" fill="#bebdc2"/>
<line x1="70.6" y1="185.5" x2="81.1" y2="185.5" stroke="#333" stroke-width="1"/>
<line x1="70.6" y1="218.5" x2="81.5" y2="218.5" stroke="#333" stroke-width="1"/>
<line x1="128.1" y1="166.4" x2="133.5" y2="166.4" stroke="#333" stroke-width="1"/>
<line x1="122.5" y1="200.5" x2="139" y2="200.5" stroke="#333" stroke-width="1"/>
<line x1="177.3" y1="203.3" x2="193.7" y2="203.3" stroke="#444" stroke-width="1"/>
<line x1="287.6" y1="151.5" x2="302.2" y2="151.5" stroke="#888" stroke-width="1"/>
<line x1="286" y1="194" x2="303.8" y2="194" stroke="#888" stroke-width="1"/>
<line x1="395.6" y1="150.3" x2="413.0" y2="150.3" stroke="#9a9a9e" stroke-width="1"/>
<line x1="427.0" y1="138.4" x2="436.4" y2="138.4" stroke="#9a9a9e" stroke-width="1"/>
<line x1="340.9" y1="233.6" x2="357.3" y2="233.6" stroke="#222" stroke-width="1" stroke-dasharray="1.2,1.6"/>
<line x1="67.1" y1="202.1" x2="84.6" y2="202.1" stroke="#cc2447" stroke-width="1.5"/>
<line x1="97.3" y1="174.5" x2="109.1" y2="174.5" stroke="#cc2447" stroke-width="1.5"/>
<line x1="122.2" y1="193.5" x2="139.2" y2="193.5" stroke="#cc2447" stroke-width="1.5"/>
<line x1="149.2" y1="192.9" x2="167" y2="192.9" stroke="#cc2447" stroke-width="1.5"/>
<line x1="176.9" y1="177.3" x2="194" y2="177.3" stroke="#cc2447" stroke-width="1.5"/>
<line x1="204.5" y1="199.5" x2="221.3" y2="199.5" stroke="#cc2447" stroke-width="1.5"/>
<line x1="231.4" y1="197.6" x2="249" y2="197.6" stroke="#cc2447" stroke-width="1.5"/>
<line x1="258.6" y1="196.4" x2="276.3" y2="196.4" stroke="#cc2447" stroke-width="1.5"/>
<line x1="291.3" y1="175.8" x2="298.5" y2="175.8" stroke="#cc2447" stroke-width="1.5"/>
<line x1="313" y1="198.7" x2="331.3" y2="198.7" stroke="#cc2447" stroke-width="1.5"/>
<line x1="340.9" y1="210" x2="358.2" y2="210" stroke="#cc2447" stroke-width="1.5"/>
<line x1="369" y1="151.3" x2="384.8" y2="151.3" stroke="#cc2447" stroke-width="1.5"/>
<line x1="395.3" y1="176" x2="413.5" y2="176" stroke="#cc2447" stroke-width="1.5"/>
<line x1="422.9" y1="194.5" x2="440.6" y2="194.5" stroke="#cc2447" stroke-width="1.5"/>
<line x1="450.4" y1="65.5" x2="467.8" y2="65.5" stroke="#cc2447" stroke-width="1.5"/>
<circle cx="74.5" cy="66.7" r="1.25" fill="#000"/>
<circle cx="77.3" cy="66.7" r="1.25" fill="#000"/>
<circle cx="75.8" cy="97.6" r="1.25" fill="#000"/>
<circle cx="75.8" cy="146.5" r="1.25" fill="#000"/>
<circle cx="74.3" cy="165.9" r="1.25" fill="#000"/>
<circle cx="77.4" cy="166.6" r="1.25" fill="#000"/>
<circle cx="75.9" cy="171.7" r="1.25" fill="#000"/>
<circle cx="74.5" cy="172.9" r="1.25" fill="#000"/>
<circle cx="77.4" cy="175.6" r="1.25" fill="#000"/>
<circle cx="79" cy="178.1" r="1.25" fill="#000"/>
<circle cx="72.9" cy="179.3" r="1.25" fill="#000"/>
<circle cx="76" cy="179.3" r="1.25" fill="#000"/>
<circle cx="74.3" cy="182.6" r="1.25" fill="#000"/>
<circle cx="77.6" cy="185.7" r="1.25" fill="#000"/>
<circle cx="74.3" cy="187.5" r="1.25" fill="#000"/>
<circle cx="77.4" cy="189.6" r="1.25" fill="#000"/>
<circle cx="80.6" cy="190" r="1.25" fill="#000"/>
<circle cx="71.2" cy="190.8" r="1.25" fill="#000"/>
<circle cx="72.8" cy="192.8" r="1.25" fill="#000"/>
<circle cx="75.9" cy="194.7" r="1.25" fill="#000"/>
<circle cx="74.3" cy="195.9" r="1.25" fill="#000"/>
<circle cx="79" cy="194.5" r="1.25" fill="#000"/>
<circle cx="71.2" cy="197.3" r="1.25" fill="#000"/>
<circle cx="77.4" cy="198.1" r="1.25" fill="#000"/>
<circle cx="80.6" cy="198.6" r="1.25" fill="#000"/>
<circle cx="68.2" cy="202.7" r="1.25" fill="#000"/>
<circle cx="71.2" cy="202.1" r="1.25" fill="#000"/>
<circle cx="74.3" cy="200.6" r="1.25" fill="#000"/>
<circle cx="77.4" cy="202.1" r="1.25" fill="#000"/>
<circle cx="80.6" cy="201.7" r="1.25" fill="#000"/>
<circle cx="83.5" cy="201" r="1.25" fill="#000"/>
<circle cx="71.2" cy="204.3" r="1.25" fill="#000"/>
<circle cx="77.4" cy="205.6" r="1.25" fill="#000"/>
<circle cx="74.3" cy="207.6" r="1.25" fill="#000"/>
<circle cx="80.6" cy="207" r="1.25" fill="#000"/>
<circle cx="72.9" cy="211.3" r="1.25" fill="#000"/>
<circle cx="75.9" cy="210.7" r="1.25" fill="#000"/>
<circle cx="79" cy="211.5" r="1.25" fill="#000"/>
<circle cx="72.9" cy="214" r="1.25" fill="#000"/>
<circle cx="75.9" cy="216" r="1.25" fill="#000"/>
<circle cx="79" cy="217" r="1.25" fill="#000"/>
<circle cx="72.9" cy="218.5" r="1.25" fill="#000"/>
<circle cx="75.9" cy="220.9" r="1.25" fill="#000"/>
<circle cx="79" cy="220.9" r="1.25" fill="#000"/>
<circle cx="71.2" cy="225" r="1.25" fill="#000"/>
<circle cx="77.4" cy="225" r="1.25" fill="#000"/>
<circle cx="74.3" cy="227.3" r="1.25" fill="#000"/>
<circle cx="80.6" cy="227.3" r="1.25" fill="#000"/>
<circle cx="75.9" cy="231.8" r="1.25" fill="#000"/>
<circle cx="75.8" cy="240.2" r="1.25" fill="#000"/>
<circle cx="72.8" cy="242.2" r="1.25" fill="#000"/>
<circle cx="75.8" cy="243.9" r="1.25" fill="#000"/>
<circle cx="78.8" cy="245.3" r="1.25" fill="#000"/>
<circle cx="74.2" cy="259.2" r="1.25" fill="#000"/>
<circle cx="77.3" cy="259.9" r="1.25" fill="#000"/>
<circle cx="99.6" cy="66.7" r="1.25" fill="#000"/>
<circle cx="103.2" cy="66.7" r="1.25" fill="#000"/>
<circle cx="106.9" cy="66.7" r="1.25" fill="#000"/>
<circle cx="101.5" cy="114.5" r="1.25" fill="#000"/>
<circle cx="104.9" cy="114.9" r="1.25" fill="#000"/>
<circle cx="103.1" cy="132.4" r="1.25" fill="#000"/>
<circle cx="103.1" cy="138.5" r="1.25" fill="#000"/>
<circle cx="103.1" cy="142.2" r="1.25" fill="#000"/>
<circle cx="103.1" cy="149.5" r="1.25" fill="#000"/>
<circle cx="103.1" cy="153.8" r="1.25" fill="#000"/>
<circle cx="100.9" cy="167.6" r="1.25" fill="#000"/>
<circle cx="104.9" cy="168.2" r="1.25" fill="#000"/>
<circle cx="103.2" cy="172.3" r="1.25" fill="#000"/>
<circle cx="103.1" cy="176.7" r="1.25" fill="#000"/>
<circle cx="103.1" cy="192.7" r="1.25" fill="#000"/>
<circle cx="103.1" cy="198.2" r="1.25" fill="#000"/>
<circle cx="99.6" cy="200.4" r="1.25" fill="#000"/>
<circle cx="106.9" cy="203.1" r="1.25" fill="#000"/>
<circle cx="96.4" cy="203.6" r="1.25" fill="#000"/>
<circle cx="110.4" cy="203.6" r="1.25" fill="#000"/>
<circle cx="103.1" cy="207.6" r="1.25" fill="#000"/>
<circle cx="103.1" cy="222.7" r="1.25" fill="#000"/>
<circle cx="103.1" cy="230.9" r="1.25" fill="#000"/>
<circle cx="103.1" cy="242.4" r="1.25" fill="#000"/>
<circle cx="103.1" cy="250" r="1.25" fill="#000"/>
<circle cx="130.8" cy="129.1" r="1.25" fill="#000"/>
<circle cx="127.7" cy="151.3" r="1.25" fill="#000"/>
<circle cx="133.9" cy="152.4" r="1.25" fill="#000"/>
<circle cx="130.8" cy="166.4" r="1.25" fill="#000"/>
<circle cx="130.8" cy="175.5" r="1.25" fill="#000"/>
<circle cx="130.8" cy="181.8" r="1.25" fill="#000"/>
<circle cx="127.7" cy="192.7" r="1.25" fill="#000"/>
<circle cx="133.7" cy="193.3" r="1.25" fill="#000"/>
<circle cx="127.7" cy="197.3" r="1.25" fill="#000"/>
<circle cx="133.7" cy="196.7" r="1.25" fill="#000"/>
<circle cx="124.5" cy="199.8" r="1.25" fill="#000"/>
<circle cx="130.6" cy="200.5" r="1.25" fill="#000"/>
<circle cx="136.9" cy="201" r="1.25" fill="#000"/>
<circle cx="130.6" cy="224.8" r="1.25" fill="#000"/>
<circle cx="130.8" cy="245" r="1.25" fill="#000"/>
<circle cx="158.1" cy="124" r="1.25" fill="#000"/>
<circle cx="156.5" cy="151.3" r="1.25" fill="#000"/>
<circle cx="159.5" cy="150" r="1.25" fill="#000"/>
<circle cx="158.1" cy="167.8" r="1.25" fill="#000"/>
<circle cx="158.1" cy="173.6" r="1.25" fill="#000"/>
<circle cx="157.9" cy="189.5" r="1.25" fill="#000"/>
<circle cx="156.3" cy="192.5" r="1.25" fill="#000"/>
<circle cx="159.6" cy="192.7" r="1.25" fill="#000"/>
<circle cx="162.3" cy="193.3" r="1.25" fill="#000"/>
<circle cx="165.5" cy="193.8" r="1.25" fill="#000"/>
<circle cx="150.5" cy="195.8" r="1.25" fill="#000"/>
<circle cx="153.3" cy="195.2" r="1.25" fill="#000"/>
<circle cx="156.3" cy="199.8" r="1.25" fill="#000"/>
<circle cx="159.4" cy="202.1" r="1.25" fill="#000"/>
<circle cx="156.5" cy="243.7" r="1.25" fill="#000"/>
<circle cx="159.5" cy="246.8" r="1.25" fill="#000"/>
<circle cx="185.5" cy="59.1" r="1.25" fill="#000"/>
<circle cx="185.5" cy="66.7" r="1.25" fill="#000"/>
<circle cx="183.6" cy="159.5" r="1.25" fill="#000"/>
<circle cx="186.9" cy="158.7" r="1.25" fill="#000"/>
<circle cx="185.5" cy="177.3" r="1.25" fill="#000"/>
<circle cx="184" cy="197.6" r="1.25" fill="#000"/>
<circle cx="186.9" cy="199.1" r="1.25" fill="#000"/>
<circle cx="185.5" cy="208.2" r="1.25" fill="#000"/>
<circle cx="185.5" cy="244.5" r="1.25" fill="#000"/>
<circle cx="212.7" cy="109.1" r="1.25" fill="#000"/>
<circle cx="212.7" cy="121.8" r="1.25" fill="#000"/>
<circle cx="205.8" cy="199.5" r="1.25" fill="#000"/>
<circle cx="210.4" cy="201" r="1.25" fill="#000"/>
<circle cx="214.9" cy="198.4" r="1.25" fill="#000"/>
<circle cx="219.1" cy="198.4" r="1.25" fill="#000"/>
<circle cx="213.1" cy="205" r="1.25" fill="#000"/>
<circle cx="213.1" cy="209" r="1.25" fill="#000"/>
<circle cx="213.1" cy="216.4" r="1.25" fill="#000"/>
<circle cx="240.1" cy="139" r="1.25" fill="#000"/>
<circle cx="240.1" cy="167.8" r="1.25" fill="#000"/>
<circle cx="240.1" cy="191.5" r="1.25" fill="#000"/>
<circle cx="233.7" cy="198.2" r="1.25" fill="#000"/>
<circle cx="240.1" cy="197.6" r="1.25" fill="#000"/>
<circle cx="245.9" cy="200.9" r="1.25" fill="#000"/>
<circle cx="267.4" cy="66.8" r="1.25" fill="#000"/>
<circle cx="267.4" cy="97.7" r="1.25" fill="#000"/>
<circle cx="267.4" cy="191.5" r="1.25" fill="#000"/>
<circle cx="267.4" cy="201.5" r="1.25" fill="#000"/>
<circle cx="267.4" cy="207.8" r="1.25" fill="#000"/>
<circle cx="267.4" cy="245.5" r="1.25" fill="#000"/>
<circle cx="294.9" cy="149.1" r="1.25" fill="#000"/>
<circle cx="294.9" cy="162.7" r="1.25" fill="#000"/>
<circle cx="294.9" cy="189.1" r="1.25" fill="#000"/>
<circle cx="294.9" cy="196.4" r="1.25" fill="#000"/>
<circle cx="322.2" cy="174.2" r="1.25" fill="#000"/>
<circle cx="320.9" cy="197.3" r="1.25" fill="#000"/>
<circle cx="324" cy="200.5" r="1.25" fill="#000"/>
<circle cx="322.2" cy="239" r="1.25" fill="#000"/>
<circle cx="349.6" cy="66.5" r="1.25" fill="#000"/>
<circle cx="349.6" cy="200.4" r="1.25" fill="#000"/>
<circle cx="349.6" cy="220" r="1.25" fill="#000"/>
<circle cx="349.6" cy="238.2" r="1.25" fill="#000"/>
<circle cx="376.9" cy="122.3" r="1.25" fill="#000"/>
<circle cx="376.9" cy="151" r="1.25" fill="#000"/>
<circle cx="376.9" cy="202.7" r="1.25" fill="#000"/>
<circle cx="404.3" cy="149.6" r="1.25" fill="#000"/>
<circle cx="404.3" cy="176" r="1.25" fill="#000"/>
<circle cx="404.3" cy="201.8" r="1.25" fill="#000"/>
<circle cx="431.7" cy="137.8" r="1.25" fill="#000"/>
<circle cx="431.7" cy="194.5" r="1.25" fill="#000"/>
<circle cx="431.7" cy="202.7" r="1.25" fill="#000"/>
<circle cx="457.6" cy="65.4" r="1.25" fill="#000"/>
<circle cx="460.9" cy="66.3" r="1.25" fill="#000"/>
<circle cx="459.1" cy="175.8" r="1.25" fill="#000"/>
<g stroke="#000" stroke-width="1.35" fill="none">
<line x1="62.4" y1="34.2" x2="62.4" y2="66.4"/>
<line x1="58.2" y1="38.5" x2="62.4" y2="38.5"/>
<line x1="58.2" y1="45.6" x2="62.4" y2="45.6"/>
<line x1="58.2" y1="52.7" x2="62.4" y2="52.7"/>
<line x1="58.2" y1="59.7" x2="62.4" y2="59.7"/>
<line x1="58.2" y1="66.4" x2="66.9" y2="66.4"/>
<line x1="58.2" y1="70.1" x2="66.9" y2="70.1"/>
<line x1="62.5" y1="70.1" x2="62.5" y2="262.3"/>
<line x1="58.3" y1="198.10" x2="62.5" y2="198.10"/>
<line x1="58.3" y1="134.30" x2="62.5" y2="134.30"/>
<line x1="58.3" y1="262.3" x2="487.7" y2="262.3"/>
<line x1="75.90" y1="262.3" x2="75.90" y2="266.4"/>
<line x1="103.27" y1="262.3" x2="103.27" y2="266.4"/>
<line x1="130.64" y1="262.3" x2="130.64" y2="266.4"/>
<line x1="158.01" y1="262.3" x2="158.01" y2="266.4"/>
<line x1="185.38" y1="262.3" x2="185.38" y2="266.4"/>
<line x1="212.75" y1="262.3" x2="212.75" y2="266.4"/>
<line x1="240.12" y1="262.3" x2="240.12" y2="266.4"/>
<line x1="267.49" y1="262.3" x2="267.49" y2="266.4"/>
<line x1="294.86" y1="262.3" x2="294.86" y2="266.4"/>
<line x1="322.23" y1="262.3" x2="322.23" y2="266.4"/>
<line x1="349.60" y1="262.3" x2="349.60" y2="266.4"/>
<line x1="376.97" y1="262.3" x2="376.97" y2="266.4"/>
<line x1="404.34" y1="262.3" x2="404.34" y2="266.4"/>
<line x1="431.71" y1="262.3" x2="431.71" y2="266.4"/>
<line x1="459.08" y1="262.3" x2="459.08" y2="266.4"/>
</g>
<g font-family="'Liberation Sans', sans-serif" font-size="10.4" fill="#000" text-anchor="end">
<text transform="translate(53.6,36.9) scale(1,0.93)" x="0" y="3.72">80</text>
<text transform="translate(53.6,45.1) scale(1,0.88)" x="0" y="3.72">60</text>
<text transform="translate(53.6,53.1) scale(1,0.86)" x="0" y="3.72">40</text>
<text transform="translate(53.6,61.6) scale(1,0.95)" x="0" y="3.72">20</text>
<text transform="translate(53.6,72.0) scale(1,0.9)" x="0" y="3.72">3</text>
<text x="53" y="265.7">0</text>
<text x="53" y="201.9">1</text>
<text x="53" y="138.1">2</text>
</g>
<g font-family="'Liberation Sans', sans-serif" font-size="13.6" fill="#000" stroke="#000" stroke-width="0.3" transform="translate(27.9,201.2) rotate(-90) scale(0.6,1)">
<text x="-0.67" y="0" textLength="39.00" lengthAdjust="spacingAndGlyphs">Ratio:</text>
<text x="41.00" y="0" textLength="26.83" lengthAdjust="spacingAndGlyphs">VAF</text>
<text x="73.50" y="0" textLength="42.17" lengthAdjust="spacingAndGlyphs">cfDNA</text>
<text x="119.00" y="0" text-anchor="middle" transform="translate(119.00,0) scale(1.25,1) translate(-119.00,0)">/</text>
<text x="122.50" y="0" textLength="26.50" lengthAdjust="spacingAndGlyphs">VAF</text>
<text x="152.83" y="0" textLength="22.33" lengthAdjust="spacingAndGlyphs">BM</text>
</g>
<text font-family="'Liberation Sans', sans-serif" font-size="10.3" fill="#000" x="87.8" y="37.1"><tspan font-style="italic">P</tspan>=.025</text>
<polygon points="103.20,46.00 103.99,47.91 106.05,48.07 104.48,49.42 104.96,51.43 103.20,50.35 101.44,51.43 101.92,49.42 100.35,48.07 102.41,47.91" fill="#cc2447"/>
<g font-family="'Liberation Sans', sans-serif" font-size="10.2" font-style="italic" fill="#000" text-anchor="end">
<text transform="translate(78.90,275.3) rotate(-43)">TET2</text>
<text transform="translate(106.27,275.3) rotate(-43)">SF3B1</text>
<text transform="translate(133.64,275.3) rotate(-43)">ASXL1</text>
<text transform="translate(161.01,275.3) rotate(-43)">DNMT3A</text>
<text transform="translate(188.38,275.3) rotate(-43)">SRSF2</text>
<text transform="translate(215.75,275.3) rotate(-43)">U2AF1</text>
<text transform="translate(243.12,275.3) rotate(-43)">ZRSR2</text>
<text transform="translate(270.49,275.3) rotate(-43)">PHF6</text>
<text transform="translate(297.86,275.3) rotate(-43)">NF1</text>
<text transform="translate(325.23,275.3) rotate(-43)">IDH2</text>
<text transform="translate(352.60,275.3) rotate(-43)">ATM</text>
<text transform="translate(379.97,275.3) rotate(-43)">TP53</text>
<text transform="translate(407.34,275.3) rotate(-43)">STAG2</text>
<text transform="translate(434.71,275.3) rotate(-43)">JAK2</text>
<text transform="translate(462.08,275.3) rotate(-43)">MPL</text>
</g>
<line x1="58.5" y1="478.3" x2="240.6" y2="478.3" stroke="#555" stroke-width="1" stroke-dasharray="1,1.3"/>
<rect x="67.8" y="436.6" width="41.1" height="49.5" fill="#dddcdf" stroke="#bebdc2" stroke-width="1"/>
<line x1="67.8" y1="479.3" x2="108.9" y2="479.3" stroke="#bebdc2" stroke-width="1.1"/>
<rect x="128.8" y="358.3" width="42" height="105.9" fill="#dddcdf" stroke="#bebdc2" stroke-width="1"/>
<rect x="128.8" y="354.2" width="42" height="2.2" fill="#dddcdf" stroke="none"/>
<line x1="128.8" y1="354.4" x2="170.8" y2="354.4" stroke="#bebdc2" stroke-width="1"/>
<line x1="128.8" y1="429.2" x2="170.8" y2="429.2" stroke="#bebdc2" stroke-width="1"/>
<rect x="190.4" y="472.6" width="42" height="2.4" fill="#c8c8cc"/>
<g stroke="#000" stroke-width="1.2">
<line x1="88.4" y1="399.6" x2="88.4" y2="436.6"/><line x1="79.4" y1="399.6" x2="97.8" y2="399.6"/>
<line x1="88.4" y1="486.1" x2="88.4" y2="519.6"/><line x1="79.4" y1="519.6" x2="97.8" y2="519.6"/>
<line x1="149.6" y1="337.9" x2="149.6" y2="355"/><line x1="140" y1="337.9" x2="159.6" y2="337.9"/>
<line x1="149.6" y1="464.2" x2="149.6" y2="483.1"/><line x1="140" y1="483.1" x2="159.6" y2="483.1"/>
</g>
<circle cx="88.4" cy="425.5" r="1.4" fill="#000"/>
<circle cx="88.4" cy="432.7" r="1.4" fill="#000"/>
<circle cx="86.5" cy="449.3" r="1.4" fill="#000"/>
<circle cx="89.3" cy="449.7" r="1.4" fill="#000"/>
<circle cx="85.4" cy="480.1" r="1.4" fill="#000"/>
<circle cx="88.4" cy="480.1" r="1.4" fill="#000"/>
<circle cx="91.6" cy="478" r="1.4" fill="#000"/>
<circle cx="87" cy="483.5" r="1.4" fill="#000"/>
<circle cx="89.3" cy="487" r="1.4" fill="#000"/>
<circle cx="88.4" cy="501.1" r="1.4" fill="#000"/>
<circle cx="88.4" cy="519.6" r="1.4" fill="#000"/>
<circle cx="149.6" cy="337.9" r="1.4" fill="#000"/>
<circle cx="149.6" cy="351.9" r="1.4" fill="#000"/>
<circle cx="149.6" cy="355.6" r="1.4" fill="#000"/>
<circle cx="149.6" cy="416.5" r="1.4" fill="#000"/>
<circle cx="149.6" cy="422.1" r="1.4" fill="#000"/>
<circle cx="149.6" cy="436.3" r="1.4" fill="#000"/>
<circle cx="149.6" cy="453.7" r="1.4" fill="#000"/>
<circle cx="149.6" cy="458.1" r="1.4" fill="#000"/>
<circle cx="148.1" cy="482.7" r="1.4" fill="#000"/>
<circle cx="151.2" cy="483.1" r="1.4" fill="#000"/>
<circle cx="211.5" cy="473.8" r="1.4" fill="#000"/>
<g stroke="#000" stroke-width="1.35" fill="none">
<line x1="57.5" y1="328.2" x2="57.5" y2="356.4"/>
<line x1="53.2" y1="332.6" x2="57.5" y2="332.6"/>
<line x1="53.2" y1="340.5" x2="57.5" y2="340.5"/>
<line x1="53.2" y1="348.4" x2="57.5" y2="348.4"/>
<line x1="53.2" y1="356.4" x2="61.8" y2="356.4"/><line x1="53.2" y1="358.3" x2="61.8" y2="358.3"/>
<line x1="57.5" y1="358.3" x2="57.5" y2="538.1"/>
<line x1="53.5" y1="478.1" x2="57.5" y2="478.1"/>
<line x1="53.5" y1="418.1" x2="57.5" y2="418.1"/>
<line x1="53.5" y1="538.1" x2="242.1" y2="538.1"/>
<line x1="88.4" y1="538.1" x2="88.4" y2="542"/>
<line x1="149.6" y1="538.1" x2="149.6" y2="542"/>
<line x1="211.5" y1="538.1" x2="211.5" y2="542"/>
</g>
<g font-family="'Liberation Sans', sans-serif" font-size="10.4" fill="#000" text-anchor="end">
<text x="49" y="334.6">6</text>
<text x="49" y="343.5">5</text>
<text x="49" y="351.7">4</text>
<text x="49" y="363.2">3</text>
<text x="49.4" y="541.9">0</text>
<text x="49.4" y="481.9">1</text>
<text x="49.4" y="421.9">2</text>
</g>
<g font-family="'Liberation Sans', sans-serif" font-size="13.6" fill="#000" stroke="#000" stroke-width="0.3" transform="translate(34.3,486.9) rotate(-90) scale(0.6,1)">
<text x="-0.67" y="0" textLength="39.00" lengthAdjust="spacingAndGlyphs">Ratio:</text>
<text x="41.00" y="0" textLength="26.83" lengthAdjust="spacingAndGlyphs">VAF</text>
<text x="73.50" y="0" textLength="42.17" lengthAdjust="spacingAndGlyphs">cfDNA</text>
<text x="119.00" y="0" text-anchor="middle" transform="translate(119.00,0) scale(1.25,1) translate(-119.00,0)">/</text>
<text x="122.50" y="0" textLength="26.50" lengthAdjust="spacingAndGlyphs">VAF</text>
<text x="152.83" y="0" textLength="22.33" lengthAdjust="spacingAndGlyphs">BM</text>
</g>
<g font-family="'Liberation Sans', sans-serif" font-size="10.7" fill="#000" text-anchor="middle">
<text x="88.4" y="555.1" font-style="italic">SF3B1</text>
<text x="88.4" y="568.1" font-weight="bold">exon 14</text>
<text x="149.6" y="555.1" font-style="italic">SF3B1</text>
<text x="149.6" y="568.1" font-weight="bold">exon 15</text>
<text x="211.5" y="555.1" font-style="italic">SF3B1</text>
<text x="211.5" y="568.1" font-weight="bold">exon 16</text>
</g>
<line x1="395.8" y1="367.50" x2="463.3" y2="367.50" stroke="#111" stroke-width="1.1"/>
<rect x="420.5" y="357.3" width="22.20" height="19.80" fill="#00bfc4" stroke="#111" stroke-width="1.2"/>
<line x1="434.2" y1="357.3" x2="434.2" y2="377.1" stroke="#111" stroke-width="1.6"/>
<rect x="356.95" y="366.45" width="1.5" height="1.5" fill="#222"/>
<rect x="360.45" y="366.45" width="1.5" height="1.5" fill="#222"/>
<rect x="364.25" y="366.45" width="1.5" height="1.5" fill="#222"/>
<rect x="370.05" y="366.45" width="1.5" height="1.5" fill="#222"/>
<rect x="373.85" y="366.45" width="1.5" height="1.5" fill="#222"/>
<rect x="375.75" y="366.45" width="1.5" height="1.5" fill="#222"/>
<rect x="377.75" y="366.45" width="1.5" height="1.5" fill="#222"/>
<line x1="374.2" y1="389.50" x2="460.8" y2="389.50" stroke="#111" stroke-width="1.1"/>
<rect x="401.2" y="379.4" width="25.40" height="20.20" fill="#f8766d" stroke="#111" stroke-width="1.2"/>
<line x1="414" y1="379.4" x2="414" y2="399.6" stroke="#111" stroke-width="1.6"/>
<line x1="391" y1="426.50" x2="451.7" y2="426.50" stroke="#111" stroke-width="1.1"/>
<rect x="413.5" y="416.2" width="16.20" height="19.80" fill="#00bfc4" stroke="#111" stroke-width="1.2"/>
<line x1="421.7" y1="416.2" x2="421.7" y2="436" stroke="#111" stroke-width="1.6"/>
<rect x="358.45" y="425.35" width="1.5" height="1.5" fill="#222"/>
<rect x="360.75" y="425.35" width="1.5" height="1.5" fill="#222"/>
<rect x="363.25" y="425.35" width="1.5" height="1.5" fill="#222"/>
<rect x="366.25" y="425.35" width="1.5" height="1.5" fill="#222"/>
<rect x="374.85" y="425.35" width="1.5" height="1.5" fill="#222"/>
<rect x="377.75" y="425.35" width="1.5" height="1.5" fill="#222"/>
<rect x="381.15" y="425.35" width="1.5" height="1.5" fill="#222"/>
<line x1="410.8" y1="448.50" x2="445.6" y2="448.50" stroke="#111" stroke-width="1.1"/>
<rect x="425.2" y="438.3" width="9.90" height="19.80" fill="#f8766d" stroke="#111" stroke-width="1.2"/>
<line x1="431.9" y1="438.3" x2="431.9" y2="458.1" stroke="#111" stroke-width="1.6"/>
<rect x="404.05" y="447.45" width="1.5" height="1.5" fill="#222"/>
<rect x="451.55" y="447.45" width="1.5" height="1.5" fill="#222"/>
<line x1="397.3" y1="484.50" x2="424.8" y2="484.50" stroke="#111" stroke-width="1.1"/>
<rect x="404.4" y="474.2" width="8.30" height="20.80" fill="#00bfc4" stroke="#111" stroke-width="1.2"/>
<line x1="408.7" y1="474.2" x2="408.7" y2="495" stroke="#111" stroke-width="1.6"/>
<rect x="356.25" y="483.85" width="1.5" height="1.5" fill="#222"/>
<rect x="358.05" y="483.85" width="1.5" height="1.5" fill="#222"/>
<rect x="365.25" y="483.85" width="1.5" height="1.5" fill="#222"/>
<rect x="368.45" y="483.85" width="1.5" height="1.5" fill="#222"/>
<rect x="371.55" y="483.85" width="1.5" height="1.5" fill="#222"/>
<rect x="374.85" y="483.85" width="1.5" height="1.5" fill="#222"/>
<rect x="377.75" y="483.85" width="1.5" height="1.5" fill="#222"/>
<rect x="384.85" y="483.85" width="1.5" height="1.5" fill="#222"/>
<rect x="387.25" y="483.85" width="1.5" height="1.5" fill="#222"/>
<rect x="389.65" y="483.85" width="1.5" height="1.5" fill="#222"/>
<rect x="391.25" y="483.85" width="1.5" height="1.5" fill="#222"/>
<rect x="429.85" y="483.85" width="1.5" height="1.5" fill="#222"/>
<rect x="443.25" y="483.85" width="1.5" height="1.5" fill="#222"/>
<line x1="393.8" y1="506.50" x2="424.6" y2="506.50" stroke="#111" stroke-width="1.1"/>
<rect x="402.1" y="496" width="11.60" height="20.70" fill="#f8766d" stroke="#111" stroke-width="1.2"/>
<line x1="408.3" y1="496" x2="408.3" y2="516.7" stroke="#111" stroke-width="1.6"/>
<rect x="384.45" y="505.75" width="1.5" height="1.5" fill="#222"/>
<rect x="497.85" y="376.70" width="2.1" height="2.0" fill="#222"/>
<rect x="500.95" y="376.70" width="2.1" height="2.0" fill="#222"/>
<rect x="503.95" y="376.70" width="2.1" height="2.0" fill="#222"/>
<rect x="506.95" y="376.70" width="2.1" height="2.0" fill="#222"/>
<rect x="497.85" y="435.20" width="2.1" height="2.0" fill="#222"/>
<rect x="500.95" y="435.20" width="2.1" height="2.0" fill="#222"/>
<rect x="503.95" y="435.20" width="2.1" height="2.0" fill="#222"/>
<rect x="506.95" y="435.20" width="2.1" height="2.0" fill="#222"/>
<g stroke="#000" stroke-width="1.2" fill="none">
<line x1="348.5" y1="343.5" x2="348.5" y2="531"/>
<line x1="344.4" y1="378.8" x2="348.5" y2="378.8"/>
<line x1="344.4" y1="436.9" x2="348.5" y2="436.9"/>
<line x1="344.4" y1="495.8" x2="348.5" y2="495.8"/>
<line x1="348.5" y1="531" x2="510.8" y2="531" stroke-width="1.45"/>
<line x1="353.5" y1="531" x2="353.5" y2="534.6"/>
<line x1="391.0" y1="531" x2="391.0" y2="534.6"/>
<line x1="428.5" y1="531" x2="428.5" y2="534.6"/>
<line x1="466.0" y1="531" x2="466.0" y2="534.6"/>
<line x1="503.5" y1="531" x2="503.5" y2="534.6"/>
</g>
<g font-family="'Liberation Sans', sans-serif" font-size="10.6" fill="#000" text-anchor="middle">
<text x="353.5" y="547.3">0.0</text>
<text x="391.0" y="547.3">0.5</text>
<text x="428.5" y="547.3">1.0</text>
<text x="466.0" y="547.3">1.5</text>
<text x="503.5" y="547.3">2.0</text>
</g>
<g font-family="'Liberation Sans', sans-serif" font-size="13.3" fill="#000" stroke="#000" stroke-width="0.15" transform="translate(0,564.8) scale(1,1)">
<text x="369.10" y="0" textLength="20.05" lengthAdjust="spacingAndGlyphs">Ratio</text>
<text x="392.10" y="0" textLength="8.30" lengthAdjust="spacingAndGlyphs">to</text>
<text x="402.85" y="0" textLength="26.30" lengthAdjust="spacingAndGlyphs">whole</text>
<text x="431.60" y="0" textLength="22.55" lengthAdjust="spacingAndGlyphs">panel</text>
<text x="456.60" y="0" textLength="32.55" lengthAdjust="spacingAndGlyphs">coverage</text>
</g>
<g font-family="'Liberation Sans', sans-serif" font-size="10.7" fill="#000" text-anchor="end">
<text x="339.2" y="382.2"><tspan font-style="italic">SF3B1</tspan> <tspan font-weight="bold">exon 14</tspan></text>
<text x="339.2" y="440.7"><tspan font-style="italic">SF3B1</tspan> <tspan font-weight="bold">exon 15</tspan></text>
<text x="339.2" y="499.3"><tspan font-style="italic">SF3B1</tspan> <tspan font-weight="bold">exon 16</tspan></text>
</g>
<text font-family="'Liberation Sans', sans-serif" font-size="10" fill="#000" x="498.8" y="499.2">ns</text>
<line x1="451.1" y1="502.9" x2="451.1" y2="511.5" stroke="#111" stroke-width="1.1"/>
<rect x="447.8" y="504.5" width="6.6" height="5.2" rx="0.6" fill="#f8766d" stroke="#111" stroke-width="1"/>
<line x1="447.8" y1="507.1" x2="454.40000000000003" y2="507.1" stroke="#111" stroke-width="0.9"/>
<line x1="451.1" y1="515.1999999999999" x2="451.1" y2="523.8" stroke="#111" stroke-width="1.1"/>
<rect x="447.8" y="516.8" width="6.6" height="5.2" rx="0.6" fill="#00bfc4" stroke="#111" stroke-width="1"/>
<line x1="447.8" y1="519.4" x2="454.40000000000003" y2="519.4" stroke="#111" stroke-width="0.9"/>
<g font-family="'Liberation Sans', sans-serif" font-size="8.5" fill="#000"><text x="458.5" y="510.4">cfDNA</text><text x="458.5" y="522.3">BM DNA</text></g>
</svg><div id="border"></div></div></body></html>
